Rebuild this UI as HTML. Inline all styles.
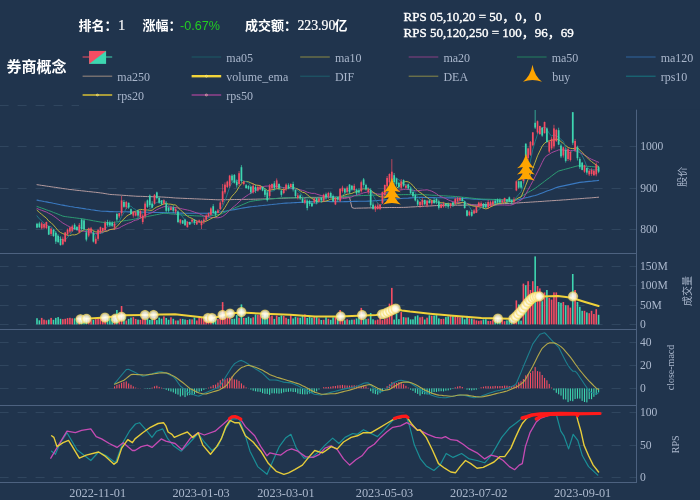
<!DOCTYPE html>
<html><head><meta charset="utf-8"><title>券商概念</title>
<style>html,body{margin:0;padding:0;background:#20344d;} svg{display:block;}</style></head>
<body><svg width="700" height="500" viewBox="0 0 700 500">
<defs><radialGradient id="glow"><stop offset="0" stop-color="#ffffff" stop-opacity="0.95"/><stop offset="0.55" stop-color="#fff8dc" stop-opacity="0.85"/><stop offset="0.85" stop-color="#f8e070" stop-opacity="0.8"/><stop offset="1" stop-color="#f0d040" stop-opacity="0.35"/></radialGradient></defs>
<rect width="700" height="500" fill="#20344d"/>
<line x1="0" y1="105.5" x2="636.5" y2="105.5" stroke="#30465f" stroke-width="1" stroke-dasharray="9 9" stroke-dashoffset="0.4"/>
<line x1="0" y1="146.5" x2="636.5" y2="146.5" stroke="#30465f" stroke-width="1" stroke-dasharray="9 9" stroke-dashoffset="0.4"/>
<line x1="0" y1="188.5" x2="636.5" y2="188.5" stroke="#30465f" stroke-width="1" stroke-dasharray="9 9" stroke-dashoffset="0.4"/>
<line x1="0" y1="229.5" x2="636.5" y2="229.5" stroke="#30465f" stroke-width="1" stroke-dasharray="9 9" stroke-dashoffset="0.4"/>
<line x1="0" y1="266.5" x2="636.5" y2="266.5" stroke="#30465f" stroke-width="1" stroke-dasharray="9 9" stroke-dashoffset="0.4"/>
<line x1="0" y1="285.5" x2="636.5" y2="285.5" stroke="#30465f" stroke-width="1" stroke-dasharray="9 9" stroke-dashoffset="0.4"/>
<line x1="0" y1="305.5" x2="636.5" y2="305.5" stroke="#30465f" stroke-width="1" stroke-dasharray="9 9" stroke-dashoffset="0.4"/>
<line x1="0" y1="324.5" x2="636.5" y2="324.5" stroke="#30465f" stroke-width="1" stroke-dasharray="9 9" stroke-dashoffset="0.4"/>
<line x1="0" y1="342.5" x2="636.5" y2="342.5" stroke="#30465f" stroke-width="1" stroke-dasharray="9 9" stroke-dashoffset="0.4"/>
<line x1="0" y1="365.5" x2="636.5" y2="365.5" stroke="#30465f" stroke-width="1" stroke-dasharray="9 9" stroke-dashoffset="0.4"/>
<line x1="0" y1="388.5" x2="636.5" y2="388.5" stroke="#30465f" stroke-width="1" stroke-dasharray="9 9" stroke-dashoffset="0.4"/>
<line x1="0" y1="412.5" x2="636.5" y2="412.5" stroke="#30465f" stroke-width="1" stroke-dasharray="9 9" stroke-dashoffset="0.4"/>
<line x1="0" y1="445.5" x2="636.5" y2="445.5" stroke="#30465f" stroke-width="1" stroke-dasharray="9 9" stroke-dashoffset="0.4"/>
<line x1="0" y1="477.5" x2="636.5" y2="477.5" stroke="#30465f" stroke-width="1" stroke-dasharray="9 9" stroke-dashoffset="0.4"/>
<polyline points="37.0,184.7 39.3,185.0 41.7,185.4 44.0,185.7 46.4,186.1 48.7,186.4 51.1,186.8 53.4,187.1 55.8,187.4 58.1,187.8 60.5,188.1 62.8,188.5 65.2,188.8 67.5,189.1 69.9,189.5 72.2,189.7 74.6,190.0 76.9,190.3 79.3,190.5 81.6,190.8 84.0,191.0 86.3,191.3 88.7,191.6 91.0,191.8 93.4,192.1 95.7,192.3 98.1,192.6 100.4,192.9 102.8,193.2 105.1,193.6 107.5,194.0 109.8,194.4 112.2,194.6 114.5,194.7 116.9,194.9 119.2,195.0 121.6,195.2 123.9,195.4 126.3,195.5 128.6,195.7 131.0,195.9 133.3,196.0 135.7,196.2 138.0,196.3 140.4,196.3 142.7,196.4 145.1,196.5 147.4,196.6 149.8,196.6 152.1,196.7 154.5,196.8 156.8,196.9 159.2,196.9 161.5,197.0 163.9,197.1 166.2,197.3 168.6,197.4 170.9,197.6 173.3,197.8 175.6,198.0 178.0,198.1 180.3,198.2 182.7,198.3 185.0,198.4 187.4,198.5 189.7,198.6 192.1,198.7 194.4,198.8 196.8,198.9 199.1,199.0 201.5,199.1 203.8,199.2 206.2,199.3 208.5,199.4 210.9,199.5 213.2,199.6 215.6,199.7 217.9,199.8 220.3,199.8 222.6,199.7 225.0,199.7 227.3,199.7 229.7,199.6 232.0,199.6 234.4,199.5 236.7,199.5 239.1,199.5 241.4,199.4 243.8,199.4 246.1,199.4 248.5,199.3 250.8,199.3 253.2,199.2 255.5,199.2 257.9,199.1 260.2,199.1 262.6,199.0 264.9,199.0 267.3,198.9 269.6,198.8 272.0,198.7 274.3,198.6 276.7,198.5 279.0,198.4 281.4,198.3 283.7,198.2 286.1,198.1 288.4,198.0 290.8,197.9 293.1,197.8 295.5,197.7 297.8,197.6 300.2,197.5 302.5,197.5 304.9,197.5 307.2,197.4 309.6,197.4 311.9,197.4 314.3,197.4 316.6,197.4 319.0,197.3 321.3,197.3 323.7,197.3 326.0,197.3 328.4,197.3 330.7,197.3 333.1,197.2 335.4,197.2 337.8,197.2 340.1,197.2 342.5,197.2 344.8,197.1 347.2,197.1 349.5,197.1 351.9,207.5 354.2,208.3 356.6,208.2 358.9,208.1 361.3,208.1 363.6,208.0 366.0,208.0 368.3,207.9 370.7,207.9 373.0,207.8 375.4,207.8 377.7,207.7 380.1,207.7 382.4,207.6 384.8,207.6 387.1,207.6 389.5,207.5 391.8,207.5 394.2,207.5 396.5,207.5 398.9,207.5 401.2,207.4 403.6,207.4 405.9,207.3 408.3,207.2 410.6,207.0 413.0,206.9 415.3,206.8 417.7,206.6 420.0,206.5 422.4,206.4 424.7,206.2 427.1,206.1 429.4,206.0 431.8,205.9 434.1,205.7 436.5,205.6 438.8,205.5 441.2,205.4 443.5,205.4 445.9,205.3 448.2,205.3 450.6,205.3 452.9,205.3 455.3,205.2 457.6,205.2 460.0,205.2 462.3,205.2 464.7,205.1 467.0,205.1 469.4,205.1 471.7,205.0 474.1,205.0 476.4,205.0 478.8,204.9 481.1,204.8 483.5,204.6 485.8,204.5 488.2,204.4 490.5,204.3 492.9,204.2 495.2,204.1 497.6,204.0 499.9,203.8 502.3,203.7 504.6,203.6 507.0,203.5 509.3,203.4 511.7,203.3 514.0,203.2 516.4,203.0 518.7,202.9 521.1,202.7 523.4,202.6 525.8,202.4 528.1,202.3 530.5,202.1 532.8,202.0 535.2,201.8 537.5,201.7 539.9,201.5 542.2,201.4 544.6,201.2 546.9,201.0 549.3,200.9 551.6,200.7 554.0,200.6 556.3,200.4 558.7,200.3 561.0,200.1 563.4,199.9 565.7,199.8 568.1,199.6 570.4,199.4 572.8,199.2 575.1,199.0 577.5,198.9 579.8,198.7 582.2,198.5 584.5,198.3 586.9,198.1 589.2,198.0 591.6,197.8 593.9,197.6 596.3,197.4 598.6,197.2" fill="none" stroke="#b39a9e" stroke-width="1.0" stroke-linejoin="round" stroke-linecap="round" />
<polyline points="37.0,200.1 39.3,200.6 41.7,201.0 44.0,201.5 46.4,201.9 48.7,202.4 51.1,202.8 53.4,203.3 55.8,203.7 58.1,204.2 60.5,204.7 62.8,205.1 65.2,205.6 67.5,206.0 69.9,206.5 72.2,206.8 74.6,207.2 76.9,207.5 79.3,207.9 81.6,208.2 84.0,208.6 86.3,209.0 88.7,209.3 91.0,209.7 93.4,210.0 95.7,210.4 98.1,210.7 100.4,211.0 102.8,211.2 105.1,211.3 107.5,211.4 109.8,211.6 112.2,211.6 114.5,211.7 116.9,211.7 119.2,211.7 121.6,211.8 123.9,211.8 126.3,211.8 128.6,211.9 131.0,211.9 133.3,212.0 135.7,212.0 138.0,212.0 140.4,212.1 142.7,212.1 145.1,212.2 147.4,212.2 149.8,212.3 152.1,212.3 154.5,212.4 156.8,212.5 159.2,212.5 161.5,212.6 163.9,212.6 166.2,212.7 168.6,212.8 170.9,212.8 173.3,212.9 175.6,212.9 178.0,213.0 180.3,213.1 182.7,213.1 185.0,213.2 187.4,213.2 189.7,213.2 192.1,213.2 194.4,213.2 196.8,213.2 199.1,213.2 201.5,213.2 203.8,213.2 206.2,213.2 208.5,213.1 210.9,212.9 213.2,212.7 215.6,212.5 217.9,212.3 220.3,212.0 222.6,211.6 225.0,211.2 227.3,210.8 229.7,210.4 232.0,210.0 234.4,209.6 236.7,209.1 239.1,208.7 241.4,208.3 243.8,207.9 246.1,207.5 248.5,207.1 250.8,206.7 253.2,206.5 255.5,206.2 257.9,206.0 260.2,205.7 262.6,205.5 264.9,205.2 267.3,205.0 269.6,204.7 272.0,204.5 274.3,204.2 276.7,204.0 279.0,203.7 281.4,203.5 283.7,203.2 286.1,203.1 288.4,203.0 290.8,202.9 293.1,202.7 295.5,202.6 297.8,202.5 300.2,202.4 302.5,202.3 304.9,202.2 307.2,202.0 309.6,201.9 311.9,201.8 314.3,201.7 316.6,201.6 319.0,201.5 321.3,201.4 323.7,201.5 326.0,201.5 328.4,201.5 330.7,201.6 333.1,201.6 335.4,201.6 337.8,201.7 340.1,201.7 342.5,201.7 344.8,201.6 347.2,201.6 349.5,201.5 351.9,201.5 354.2,201.4 356.6,201.4 358.9,201.3 361.3,201.3 363.6,201.2 366.0,201.2 368.3,201.1 370.7,201.0 373.0,200.9 375.4,200.7 377.7,200.5 380.1,200.3 382.4,200.1 384.8,199.9 387.1,199.7 389.5,199.5 391.8,199.3 394.2,199.1 396.5,198.9 398.9,198.7 401.2,198.5 403.6,198.3 405.9,198.2 408.3,198.1 410.6,197.9 413.0,197.8 415.3,197.7 417.7,197.5 420.0,197.4 422.4,197.4 424.7,197.5 427.1,197.5 429.4,197.6 431.8,197.6 434.1,197.6 436.5,197.7 438.8,197.7 441.2,197.8 443.5,197.8 445.9,197.8 448.2,197.9 450.6,197.9 452.9,197.9 455.3,198.0 457.6,198.1 460.0,198.2 462.3,198.4 464.7,198.5 467.0,198.7 469.4,198.8 471.7,199.0 474.1,199.1 476.4,199.3 478.8,199.4 481.1,199.5 483.5,199.6 485.8,199.6 488.2,199.7 490.5,199.7 492.9,199.8 495.2,199.8 497.6,199.9 499.9,200.0 502.3,200.0 504.6,200.1 507.0,200.1 509.3,200.2 511.7,200.2 514.0,200.3 516.4,200.0 518.7,199.5 521.1,198.9 523.4,198.3 525.8,197.7 528.1,197.2 530.5,196.6 532.8,196.0 535.2,195.5 537.5,194.7 539.9,193.8 542.2,192.9 544.6,192.0 546.9,191.1 549.3,190.3 551.6,189.4 554.0,188.5 556.3,187.6 558.7,186.9 561.0,186.4 563.4,185.9 565.7,185.4 568.1,184.9 570.4,184.4 572.8,183.9 575.1,183.4 577.5,182.9 579.8,182.4 582.2,182.1 584.5,181.9 586.9,181.6 589.2,181.4 591.6,181.2 593.9,180.9 596.3,180.7 598.6,180.4" fill="none" stroke="#3a79c0" stroke-width="1.1" stroke-linejoin="round" stroke-linecap="round" />
<polyline points="37.0,206.5 39.3,207.3 41.7,208.1 44.0,208.9 46.4,209.8 48.7,210.6 51.1,211.4 53.4,212.4 55.8,213.3 58.1,214.2 60.5,215.2 62.8,216.1 65.2,216.6 67.5,216.9 69.9,217.2 72.2,217.5 74.6,217.8 76.9,218.1 79.3,218.4 81.6,218.7 84.0,219.0 86.3,219.5 88.7,219.9 91.0,220.3 93.4,220.8 95.7,221.2 98.1,221.6 100.4,222.0 102.8,222.3 105.1,222.5 107.5,222.7 109.8,223.0 112.2,222.7 114.5,222.3 116.9,221.9 119.2,221.6 121.6,221.2 123.9,220.8 126.3,220.5 128.6,220.1 131.0,219.8 133.3,219.3 135.7,218.9 138.0,218.4 140.4,217.9 142.7,217.5 145.1,217.0 147.4,216.5 149.8,216.0 152.1,215.6 154.5,215.1 156.8,214.6 159.2,214.2 161.5,213.7 163.9,213.2 166.2,213.4 168.6,213.6 170.9,213.9 173.3,214.1 175.6,214.3 178.0,214.6 180.3,214.8 182.7,215.0 185.0,215.2 187.4,215.4 189.7,215.5 192.1,215.6 194.4,215.8 196.8,215.9 199.1,216.0 201.5,216.1 203.8,216.2 206.2,216.4 208.5,216.2 210.9,215.8 213.2,215.4 215.6,215.0 217.9,214.6 220.3,214.2 222.6,213.2 225.0,212.2 227.3,211.1 229.7,210.1 232.0,209.1 234.4,208.1 236.7,207.1 239.1,206.1 241.4,205.1 243.8,204.1 246.1,203.1 248.5,202.1 250.8,201.3 253.2,201.0 255.5,200.6 257.9,200.3 260.2,200.0 262.6,199.7 264.9,199.4 267.3,199.2 269.6,199.0 272.0,198.8 274.3,198.6 276.7,198.4 279.0,198.2 281.4,198.0 283.7,197.8 286.1,197.8 288.4,197.8 290.8,197.8 293.1,197.9 295.5,197.9 297.8,197.9 300.2,197.9 302.5,197.9 304.9,197.9 307.2,197.9 309.6,197.9 311.9,198.0 314.3,198.0 316.6,198.0 319.0,198.0 321.3,197.9 323.7,197.8 326.0,197.6 328.4,197.4 330.7,197.3 333.1,197.1 335.4,197.0 337.8,196.8 340.1,196.7 342.5,196.5 344.8,196.3 347.2,196.2 349.5,196.0 351.9,195.9 354.2,195.9 356.6,195.8 358.9,195.7 361.3,195.6 363.6,195.5 366.0,195.4 368.3,195.4 370.7,195.3 373.0,195.2 375.4,195.1 377.7,195.0 380.1,194.9 382.4,194.9 384.8,194.8 387.1,194.8 389.5,194.8 391.8,194.7 394.2,194.7 396.5,194.7 398.9,194.7 401.2,194.7 403.6,194.6 405.9,194.6 408.3,194.6 410.6,194.6 413.0,194.6 415.3,194.5 417.7,194.5 420.0,194.5 422.4,194.6 424.7,194.8 427.1,194.9 429.4,195.0 431.8,195.2 434.1,195.3 436.5,195.4 438.8,195.5 441.2,195.7 443.5,195.8 445.9,195.9 448.2,196.1 450.6,196.2 452.9,196.3 455.3,196.5 457.6,196.7 460.0,196.9 462.3,197.2 464.7,197.4 467.0,197.6 469.4,197.9 471.7,198.1 474.1,198.4 476.4,198.6 478.8,198.9 481.1,199.0 483.5,199.1 485.8,199.2 488.2,199.2 490.5,199.3 492.9,199.4 495.2,199.4 497.6,199.5 499.9,199.6 502.3,199.6 504.6,199.7 507.0,199.8 509.3,199.8 511.7,199.9 514.0,200.0 516.4,199.4 518.7,198.0 521.1,196.6 523.4,195.2 525.8,193.8 528.1,192.4 530.5,191.1 532.8,189.7 535.2,188.3 537.5,186.6 539.9,184.8 542.2,183.1 544.6,181.3 546.9,179.5 549.3,177.8 551.6,176.0 554.0,174.2 556.3,172.5 558.7,171.0 561.0,170.4 563.4,169.7 565.7,169.1 568.1,168.5 570.4,167.8 572.8,167.2 575.1,166.5 577.5,165.9 579.8,165.7 582.2,165.9 584.5,166.1 586.9,166.3 589.2,166.4 591.6,166.6 593.9,166.8 596.3,167.0 598.6,167.2" fill="none" stroke="#2c9c72" stroke-width="1.0" stroke-linejoin="round" stroke-linecap="round" />
<polyline points="37.0,208.5 39.3,209.5 41.7,210.3 44.0,211.2 46.4,212.0 48.7,213.3 51.1,214.4 53.4,215.9 55.8,217.6 58.1,219.4 60.5,221.3 62.8,223.0 65.2,224.4 67.5,225.7 69.9,226.9 72.2,228.0 74.6,228.8 76.9,229.6 79.3,230.2 81.6,231.0 84.0,231.1 86.3,231.7 88.7,232.0 91.0,232.2 93.4,233.2 95.7,233.4 98.1,233.4 100.4,233.0 102.8,232.3 105.1,231.4 107.5,230.4 109.8,229.7 112.2,229.3 114.5,229.0 116.9,228.6 119.2,228.0 121.6,226.5 123.9,225.4 126.3,224.2 128.6,223.2 131.0,222.4 133.3,221.0 135.7,220.2 138.0,219.6 140.4,218.0 142.7,216.9 145.1,215.5 147.4,214.5 149.8,213.4 152.1,212.6 154.5,211.1 156.8,209.7 159.2,208.6 161.5,207.6 163.9,206.7 166.2,206.5 168.6,207.1 170.9,207.1 173.3,207.5 175.6,207.6 178.0,208.0 180.3,208.4 182.7,209.0 185.0,209.5 187.4,210.0 189.7,210.5 192.1,211.3 194.4,212.1 196.8,212.9 199.1,213.5 201.5,214.8 203.8,215.9 206.2,216.6 208.5,217.0 210.9,217.4 213.2,217.5 215.6,217.7 217.9,217.8 220.3,217.4 222.6,216.5 225.0,214.7 227.3,212.8 229.7,210.4 232.0,208.1 234.4,206.2 236.7,204.2 239.1,201.9 241.4,199.8 243.8,197.8 246.1,196.2 248.5,194.6 250.8,193.2 253.2,191.7 255.5,190.6 257.9,189.5 260.2,188.2 262.6,187.0 264.9,186.2 267.3,186.1 269.6,185.8 272.0,185.8 274.3,186.1 276.7,186.4 279.0,186.8 281.4,187.4 283.7,187.6 286.1,188.1 288.4,188.5 290.8,188.6 293.1,188.7 295.5,189.0 297.8,189.2 300.2,189.8 302.5,190.4 304.9,191.1 307.2,192.2 309.6,192.8 311.9,193.4 314.3,193.3 316.6,194.1 319.0,194.9 321.3,195.5 323.7,196.2 326.0,196.6 328.4,196.5 330.7,196.9 333.1,197.8 335.4,198.3 337.8,199.0 340.1,199.0 342.5,198.6 344.8,198.4 347.2,197.9 349.5,197.4 351.9,196.9 354.2,195.7 356.6,195.2 358.9,194.5 361.3,193.7 363.6,192.8 366.0,192.4 368.3,191.8 370.7,192.4 373.0,192.9 375.4,193.6 377.7,194.0 380.1,194.2 382.4,193.9 384.8,193.1 387.1,192.6 389.5,191.9 391.8,190.9 394.2,190.6 396.5,190.2 398.9,190.1 401.2,189.9 403.6,189.5 405.9,189.2 408.3,189.5 410.6,189.9 413.0,190.2 415.3,190.8 417.7,190.8 420.0,190.4 422.4,190.1 424.7,190.0 427.1,189.8 429.4,190.4 431.8,191.2 434.1,192.4 436.5,193.8 438.8,195.6 441.2,196.7 443.5,197.7 445.9,198.6 448.2,199.9 450.6,200.8 452.9,201.7 455.3,202.2 457.6,202.5 460.0,202.6 462.3,202.6 464.7,202.8 467.0,203.5 469.4,204.1 471.7,204.6 474.1,205.1 476.4,205.3 478.8,205.4 481.1,205.4 483.5,205.7 485.8,205.7 488.2,205.6 490.5,205.5 492.9,205.3 495.2,205.1 497.6,205.0 499.9,204.9 502.3,205.0 504.6,205.0 507.0,205.1 509.3,205.2 511.7,204.9 514.0,204.1 516.4,202.6 518.7,201.2 521.1,200.0 523.4,198.2 525.8,194.1 528.1,189.8 530.5,185.5 532.8,181.2 535.2,176.5 537.5,171.9 539.9,167.2 542.2,162.4 544.6,157.7 546.9,155.6 549.3,154.2 551.6,152.7 554.0,151.7 556.3,150.8 558.7,149.9 561.0,149.8 563.4,150.0 565.7,150.2 568.1,150.5 570.4,150.5 572.8,150.5 575.1,150.5 577.5,151.4 579.8,152.6 582.2,153.7 584.5,155.1 586.9,156.6 589.2,158.1 591.6,159.3 593.9,160.3 596.3,161.3 598.6,162.3" fill="none" stroke="#a8489e" stroke-width="1.0" stroke-linejoin="round" stroke-linecap="round" />
<polyline points="37.0,210.2 39.3,212.4 41.7,214.3 44.0,216.3 46.4,218.1 48.7,221.1 51.1,222.7 53.4,225.0 55.8,227.8 58.1,230.7 60.5,232.5 62.8,233.6 65.2,234.5 67.5,235.1 69.9,235.6 72.2,234.8 74.6,234.9 76.9,234.3 79.3,232.6 81.6,231.3 84.0,229.7 86.3,229.8 88.7,229.4 91.0,229.3 93.4,230.7 95.7,231.9 98.1,232.0 100.4,231.7 102.8,232.0 105.1,231.4 107.5,231.0 109.8,229.6 112.2,229.3 114.5,228.8 116.9,226.6 119.2,224.0 121.6,221.1 123.9,219.0 126.3,216.4 128.6,214.9 131.0,213.8 133.3,212.4 135.7,211.1 138.0,210.3 140.4,209.4 142.7,209.7 145.1,210.0 147.4,210.0 149.8,210.3 152.1,210.3 154.5,208.4 156.8,207.0 159.2,206.1 161.5,204.9 163.9,203.9 166.2,203.4 168.6,204.1 170.9,204.2 173.3,204.8 175.6,204.9 178.0,207.6 180.3,209.8 182.7,211.9 185.0,214.0 187.4,216.2 189.7,217.5 192.1,218.4 194.4,219.9 196.8,221.0 199.1,222.1 201.5,222.0 203.8,222.0 206.2,221.2 208.5,220.0 210.9,218.7 213.2,217.5 215.6,217.0 217.9,215.8 220.3,213.9 222.6,211.0 225.0,207.3 227.3,203.5 229.7,199.5 232.0,196.2 234.4,193.7 236.7,190.9 239.1,186.8 241.4,183.8 243.8,181.7 246.1,181.4 248.5,181.8 250.8,182.9 253.2,183.9 255.5,185.0 257.9,185.4 260.2,185.5 262.6,187.2 264.9,188.6 267.3,190.5 269.6,190.2 272.0,189.8 274.3,189.3 276.7,188.8 279.0,188.6 281.4,189.3 283.7,189.6 286.1,189.0 288.4,188.4 290.8,186.8 293.1,187.1 295.5,188.3 297.8,189.0 300.2,190.8 302.5,192.3 304.9,192.8 307.2,194.7 309.6,196.6 311.9,198.4 314.3,199.9 316.6,201.2 319.0,201.4 321.3,201.9 323.7,201.5 326.0,201.0 328.4,200.3 330.7,199.1 333.1,198.9 335.4,198.1 337.8,198.2 340.1,196.8 342.5,195.8 344.8,195.0 347.2,194.3 349.5,193.8 351.9,193.4 354.2,192.3 356.6,191.6 358.9,191.0 361.3,189.2 363.6,188.8 366.0,189.0 368.3,188.7 370.7,190.4 373.0,192.1 375.4,193.7 377.7,195.7 380.1,196.8 382.4,196.8 384.8,197.1 387.1,196.4 389.5,194.8 391.8,193.1 394.2,190.8 396.5,188.3 398.9,186.4 401.2,184.0 403.6,182.2 405.9,181.5 408.3,181.9 410.6,183.4 413.0,185.6 415.3,188.5 417.7,190.7 420.0,192.5 422.4,193.8 424.7,196.1 427.1,197.5 429.4,199.3 431.8,200.5 434.1,201.5 436.5,202.0 438.8,202.8 441.2,202.7 443.5,202.9 445.9,203.5 448.2,203.7 450.6,204.0 452.9,204.2 455.3,204.0 457.6,203.5 460.0,203.1 462.3,202.4 464.7,202.8 467.0,204.0 469.4,204.6 471.7,205.6 474.1,206.2 476.4,206.4 478.8,206.8 481.1,207.3 483.5,208.2 485.8,208.9 488.2,208.3 490.5,206.9 492.9,205.9 495.2,204.6 497.6,203.8 499.9,203.4 502.3,203.2 504.6,202.6 507.0,202.1 509.3,201.5 511.7,201.5 514.0,201.2 516.4,199.2 518.7,197.7 521.1,197.0 523.4,191.4 525.8,185.2 528.1,179.4 530.5,174.0 532.8,168.4 535.2,162.1 537.5,155.8 539.9,150.9 542.2,146.2 544.6,143.2 546.9,141.5 549.3,140.9 551.6,140.3 554.0,139.7 556.3,139.1 558.7,139.6 561.0,141.6 563.4,143.6 565.7,145.5 568.1,147.4 570.4,148.3 572.8,148.6 575.1,148.2 577.5,147.8 579.8,150.1 582.2,152.5 584.5,154.8 586.9,157.3 589.2,159.7 591.6,161.6 593.9,163.4 596.3,165.1 598.6,166.8" fill="none" stroke="#b8b040" stroke-width="1.0" stroke-linejoin="round" stroke-linecap="round" />
<polyline points="37.0,215.9 39.3,218.8 41.7,220.9 44.0,223.1 46.4,224.9 48.7,226.3 51.1,226.6 53.4,229.1 55.8,232.6 58.1,236.6 60.5,238.7 62.8,240.7 65.2,240.0 67.5,237.6 69.9,234.7 72.2,231.0 74.6,229.0 76.9,228.5 79.3,227.6 81.6,227.9 84.0,228.5 86.3,230.6 88.7,230.2 91.0,231.0 93.4,233.4 95.7,235.4 98.1,233.4 100.4,233.2 102.8,233.1 105.1,229.4 107.5,226.6 109.8,225.7 112.2,225.4 114.5,224.5 116.9,223.8 119.2,221.4 121.6,216.5 123.9,212.7 126.3,208.4 128.6,206.0 131.0,206.2 133.3,208.4 135.7,209.5 138.0,212.2 140.4,212.9 142.7,213.2 145.1,211.6 147.4,210.5 149.8,208.4 152.1,207.8 154.5,203.6 156.8,202.5 159.2,201.7 161.5,201.4 163.9,200.0 166.2,203.2 168.6,205.8 170.9,206.7 173.3,208.1 175.6,209.8 178.0,212.1 180.3,213.8 182.7,217.0 185.0,219.9 187.4,222.5 189.7,223.0 192.1,223.0 194.4,222.8 196.8,222.1 199.1,221.8 201.5,221.1 203.8,221.1 206.2,219.7 208.5,218.0 210.9,215.6 213.2,213.9 215.6,212.9 217.9,211.9 220.3,209.8 222.6,206.3 225.0,200.7 227.3,194.1 229.7,187.1 232.0,182.7 234.4,181.0 236.7,181.1 239.1,179.4 241.4,180.5 243.8,180.8 246.1,181.8 248.5,182.6 250.8,186.4 253.2,187.4 255.5,189.2 257.9,188.9 260.2,188.4 262.6,188.1 264.9,189.9 267.3,191.8 269.6,191.6 272.0,191.1 274.3,190.6 276.7,187.7 279.0,185.3 281.4,187.1 283.7,188.2 286.1,187.5 288.4,189.0 290.8,188.2 293.1,187.1 295.5,188.4 297.8,190.6 300.2,192.6 302.5,196.4 304.9,198.5 307.2,200.9 309.6,202.6 311.9,204.2 314.3,203.4 316.6,203.8 319.0,201.9 321.3,201.2 323.7,198.9 326.0,198.6 328.4,196.7 330.7,196.4 333.1,196.6 335.4,197.3 337.8,197.8 340.1,197.0 342.5,195.2 344.8,193.4 347.2,191.2 349.5,189.8 351.9,189.9 354.2,189.5 356.6,189.7 358.9,190.7 361.3,188.7 363.6,187.8 366.0,188.5 368.3,187.6 370.7,190.2 373.0,195.5 375.4,199.7 377.7,203.0 380.1,206.0 382.4,203.4 384.8,198.6 387.1,193.0 389.5,186.7 391.8,180.1 394.2,178.2 396.5,178.0 398.9,179.9 401.2,181.4 403.6,184.2 405.9,184.9 408.3,185.7 410.6,187.0 413.0,189.9 415.3,192.8 417.7,196.6 420.0,199.3 422.4,200.6 424.7,202.2 427.1,202.2 429.4,201.9 431.8,201.8 434.1,202.4 436.5,201.9 438.8,203.3 441.2,203.6 443.5,204.1 445.9,204.6 448.2,205.5 450.6,204.7 452.9,204.8 455.3,203.8 457.6,202.4 460.0,200.7 462.3,200.2 464.7,200.8 467.0,204.2 469.4,206.8 471.7,210.4 474.1,212.3 476.4,212.1 478.8,209.4 481.1,207.8 483.5,206.1 485.8,205.5 488.2,204.5 490.5,204.4 492.9,204.0 495.2,203.2 497.6,202.1 499.9,202.2 502.3,201.9 504.6,201.2 507.0,200.9 509.3,200.8 511.7,200.8 514.0,200.6 516.4,197.3 518.7,194.5 521.1,191.7 523.4,184.8 525.8,176.2 528.1,169.6 530.5,160.5 532.8,149.4 535.2,141.4 537.5,134.3 539.9,129.8 542.2,128.6 544.6,126.5 546.9,129.4 549.3,133.5 551.6,136.1 554.0,134.6 556.3,136.2 558.7,136.8 561.0,139.6 563.4,141.3 565.7,147.8 568.1,151.7 570.4,153.1 572.8,150.4 575.1,149.1 577.5,148.6 579.8,152.2 582.2,155.8 584.5,160.3 586.9,166.7 589.2,169.2 591.6,169.7 593.9,169.9 596.3,169.7 598.6,169.6" fill="none" stroke="#1f7f8a" stroke-width="0.9" stroke-linejoin="round" stroke-linecap="round" />
<line x1="37.00" y1="222.8" x2="37.00" y2="228.2" stroke="#3ed6b0" stroke-width="0.7"/>
<rect x="36.15" y="223.8" width="1.7" height="3.8" fill="#3ed6b0"/>
<line x1="39.35" y1="221.7" x2="39.35" y2="227.8" stroke="#3ed6b0" stroke-width="0.7"/>
<rect x="38.50" y="223.4" width="1.7" height="3.9" fill="#3ed6b0"/>
<line x1="41.70" y1="221.9" x2="41.70" y2="229.4" stroke="#f54d63" stroke-width="0.7"/>
<rect x="40.85" y="223.4" width="1.7" height="4.9" fill="#f54d63"/>
<line x1="44.05" y1="223.7" x2="44.05" y2="229.0" stroke="#f54d63" stroke-width="0.7"/>
<rect x="43.20" y="224.1" width="1.7" height="3.5" fill="#f54d63"/>
<line x1="46.40" y1="221.6" x2="46.40" y2="229.3" stroke="#f54d63" stroke-width="0.7"/>
<rect x="45.55" y="222.0" width="1.7" height="6.0" fill="#f54d63"/>
<line x1="48.75" y1="225.7" x2="48.75" y2="235.1" stroke="#3ed6b0" stroke-width="0.7"/>
<rect x="47.90" y="226.2" width="1.7" height="8.4" fill="#3ed6b0"/>
<line x1="51.10" y1="227.5" x2="51.10" y2="236.0" stroke="#f54d63" stroke-width="0.7"/>
<rect x="50.25" y="228.7" width="1.7" height="5.2" fill="#f54d63"/>
<line x1="53.45" y1="229.1" x2="53.45" y2="236.8" stroke="#3ed6b0" stroke-width="0.7"/>
<rect x="52.60" y="229.7" width="1.7" height="6.3" fill="#3ed6b0"/>
<line x1="55.80" y1="231.2" x2="55.80" y2="244.0" stroke="#3ed6b0" stroke-width="0.7"/>
<rect x="54.95" y="232.9" width="1.7" height="8.7" fill="#3ed6b0"/>
<line x1="58.15" y1="234.4" x2="58.15" y2="243.2" stroke="#3ed6b0" stroke-width="0.7"/>
<rect x="57.30" y="236.0" width="1.7" height="6.0" fill="#3ed6b0"/>
<line x1="60.50" y1="236.4" x2="60.50" y2="245.5" stroke="#3ed6b0" stroke-width="0.7"/>
<rect x="59.65" y="238.8" width="1.7" height="6.3" fill="#3ed6b0"/>
<line x1="62.85" y1="236.6" x2="62.85" y2="245.3" stroke="#f54d63" stroke-width="0.7"/>
<rect x="62.00" y="238.8" width="1.7" height="5.6" fill="#f54d63"/>
<line x1="65.20" y1="231.9" x2="65.20" y2="242.2" stroke="#f54d63" stroke-width="0.7"/>
<rect x="64.35" y="232.5" width="1.7" height="9.1" fill="#f54d63"/>
<line x1="67.55" y1="228.5" x2="67.55" y2="236.1" stroke="#f54d63" stroke-width="0.7"/>
<rect x="66.70" y="229.5" width="1.7" height="4.5" fill="#f54d63"/>
<line x1="69.90" y1="226.9" x2="69.90" y2="233.2" stroke="#f54d63" stroke-width="0.7"/>
<rect x="69.05" y="227.6" width="1.7" height="4.0" fill="#f54d63"/>
<line x1="72.25" y1="224.7" x2="72.25" y2="231.9" stroke="#f54d63" stroke-width="0.7"/>
<rect x="71.40" y="226.4" width="1.7" height="4.4" fill="#f54d63"/>
<line x1="74.60" y1="223.3" x2="74.60" y2="229.6" stroke="#3ed6b0" stroke-width="0.7"/>
<rect x="73.75" y="224.8" width="1.7" height="4.4" fill="#3ed6b0"/>
<line x1="76.95" y1="226.4" x2="76.95" y2="230.8" stroke="#3ed6b0" stroke-width="0.7"/>
<rect x="76.10" y="226.8" width="1.7" height="3.2" fill="#3ed6b0"/>
<line x1="79.30" y1="223.0" x2="79.30" y2="233.6" stroke="#f54d63" stroke-width="0.7"/>
<rect x="78.45" y="224.8" width="1.7" height="7.6" fill="#f54d63"/>
<line x1="81.65" y1="218.6" x2="81.65" y2="230.8" stroke="#3ed6b0" stroke-width="0.7"/>
<rect x="80.80" y="219.6" width="1.7" height="9.6" fill="#3ed6b0"/>
<line x1="84.00" y1="219.1" x2="84.00" y2="230.2" stroke="#3ed6b0" stroke-width="0.7"/>
<rect x="83.15" y="220.4" width="1.7" height="8.8" fill="#3ed6b0"/>
<line x1="86.35" y1="230.4" x2="86.35" y2="241.4" stroke="#3ed6b0" stroke-width="0.7"/>
<rect x="85.50" y="232.4" width="1.7" height="7.2" fill="#3ed6b0"/>
<line x1="88.70" y1="227.6" x2="88.70" y2="237.2" stroke="#f54d63" stroke-width="0.7"/>
<rect x="87.85" y="228.4" width="1.7" height="7.2" fill="#f54d63"/>
<line x1="91.05" y1="226.9" x2="91.05" y2="234.2" stroke="#f54d63" stroke-width="0.7"/>
<rect x="90.20" y="228.4" width="1.7" height="3.6" fill="#f54d63"/>
<line x1="93.39" y1="230.9" x2="93.39" y2="242.5" stroke="#3ed6b0" stroke-width="0.7"/>
<rect x="92.54" y="232.8" width="1.7" height="8.8" fill="#3ed6b0"/>
<line x1="95.74" y1="236.3" x2="95.74" y2="244.2" stroke="#f54d63" stroke-width="0.7"/>
<rect x="94.89" y="238.8" width="1.7" height="4.8" fill="#f54d63"/>
<line x1="98.09" y1="228.8" x2="98.09" y2="240.8" stroke="#f54d63" stroke-width="0.7"/>
<rect x="97.24" y="230.0" width="1.7" height="8.8" fill="#f54d63"/>
<line x1="100.44" y1="226.6" x2="100.44" y2="233.8" stroke="#f54d63" stroke-width="0.7"/>
<rect x="99.59" y="227.2" width="1.7" height="5.2" fill="#f54d63"/>
<line x1="102.79" y1="227.6" x2="102.79" y2="232.8" stroke="#f54d63" stroke-width="0.7"/>
<rect x="101.94" y="228.0" width="1.7" height="3.0" fill="#f54d63"/>
<line x1="105.14" y1="220.8" x2="105.14" y2="231.6" stroke="#f54d63" stroke-width="0.7"/>
<rect x="104.29" y="222.8" width="1.7" height="7.2" fill="#f54d63"/>
<line x1="107.49" y1="219.8" x2="107.49" y2="226.2" stroke="#3ed6b0" stroke-width="0.7"/>
<rect x="106.64" y="222.0" width="1.7" height="3.2" fill="#3ed6b0"/>
<line x1="109.84" y1="220.6" x2="109.84" y2="226.8" stroke="#3ed6b0" stroke-width="0.7"/>
<rect x="108.99" y="222.4" width="1.7" height="2.8" fill="#3ed6b0"/>
<line x1="112.19" y1="221.2" x2="112.19" y2="226.9" stroke="#3ed6b0" stroke-width="0.7"/>
<rect x="111.34" y="222.8" width="1.7" height="2.8" fill="#3ed6b0"/>
<line x1="114.54" y1="221.5" x2="114.54" y2="230.0" stroke="#f54d63" stroke-width="0.7"/>
<rect x="113.69" y="223.6" width="1.7" height="4.0" fill="#f54d63"/>
<line x1="116.89" y1="212.7" x2="116.89" y2="221.4" stroke="#3ed6b0" stroke-width="0.7"/>
<rect x="116.04" y="214.0" width="1.7" height="5.6" fill="#3ed6b0"/>
<line x1="119.24" y1="212.8" x2="119.24" y2="218.2" stroke="#f54d63" stroke-width="0.7"/>
<rect x="118.39" y="213.2" width="1.7" height="3.2" fill="#f54d63"/>
<line x1="121.59" y1="196.0" x2="121.59" y2="215.7" stroke="#f54d63" stroke-width="0.7"/>
<rect x="120.74" y="200.4" width="1.7" height="12.8" fill="#f54d63"/>
<line x1="123.94" y1="199.9" x2="123.94" y2="207.7" stroke="#3ed6b0" stroke-width="0.7"/>
<rect x="123.09" y="202.0" width="1.7" height="4.8" fill="#3ed6b0"/>
<line x1="126.29" y1="200.9" x2="126.29" y2="209.0" stroke="#f54d63" stroke-width="0.7"/>
<rect x="125.44" y="202.0" width="1.7" height="5.2" fill="#f54d63"/>
<line x1="128.64" y1="202.5" x2="128.64" y2="208.9" stroke="#3ed6b0" stroke-width="0.7"/>
<rect x="127.79" y="202.8" width="1.7" height="4.8" fill="#3ed6b0"/>
<line x1="130.99" y1="208.5" x2="130.99" y2="214.6" stroke="#3ed6b0" stroke-width="0.7"/>
<rect x="130.14" y="209.2" width="1.7" height="4.8" fill="#3ed6b0"/>
<line x1="133.34" y1="211.2" x2="133.34" y2="217.6" stroke="#f54d63" stroke-width="0.7"/>
<rect x="132.49" y="211.6" width="1.7" height="4.0" fill="#f54d63"/>
<line x1="135.69" y1="211.8" x2="135.69" y2="216.4" stroke="#f54d63" stroke-width="0.7"/>
<rect x="134.84" y="212.4" width="1.7" height="3.2" fill="#f54d63"/>
<line x1="138.04" y1="209.6" x2="138.04" y2="217.8" stroke="#3ed6b0" stroke-width="0.7"/>
<rect x="137.19" y="210.8" width="1.7" height="4.8" fill="#3ed6b0"/>
<line x1="140.39" y1="210.3" x2="140.39" y2="218.5" stroke="#f54d63" stroke-width="0.7"/>
<rect x="139.54" y="210.8" width="1.7" height="6.4" fill="#f54d63"/>
<line x1="142.74" y1="214.1" x2="142.74" y2="224.2" stroke="#f54d63" stroke-width="0.7"/>
<rect x="141.89" y="215.6" width="1.7" height="6.4" fill="#f54d63"/>
<line x1="145.09" y1="201.5" x2="145.09" y2="218.6" stroke="#f54d63" stroke-width="0.7"/>
<rect x="144.24" y="203.6" width="1.7" height="12.8" fill="#f54d63"/>
<line x1="147.44" y1="199.5" x2="147.44" y2="208.0" stroke="#3ed6b0" stroke-width="0.7"/>
<rect x="146.59" y="200.4" width="1.7" height="6.4" fill="#3ed6b0"/>
<line x1="149.79" y1="194.5" x2="149.79" y2="207.4" stroke="#3ed6b0" stroke-width="0.7"/>
<rect x="148.94" y="195.6" width="1.7" height="9.6" fill="#3ed6b0"/>
<line x1="152.14" y1="201.2" x2="152.14" y2="208.2" stroke="#3ed6b0" stroke-width="0.7"/>
<rect x="151.29" y="203.6" width="1.7" height="4.0" fill="#3ed6b0"/>
<line x1="154.49" y1="194.1" x2="154.49" y2="204.4" stroke="#f54d63" stroke-width="0.7"/>
<rect x="153.64" y="194.8" width="1.7" height="8.8" fill="#f54d63"/>
<line x1="156.84" y1="191.6" x2="156.84" y2="199.4" stroke="#3ed6b0" stroke-width="0.7"/>
<rect x="155.99" y="192.4" width="1.7" height="5.6" fill="#3ed6b0"/>
<line x1="159.19" y1="196.4" x2="159.19" y2="203.7" stroke="#3ed6b0" stroke-width="0.7"/>
<rect x="158.34" y="198.0" width="1.7" height="4.8" fill="#3ed6b0"/>
<line x1="161.54" y1="200.1" x2="161.54" y2="205.2" stroke="#3ed6b0" stroke-width="0.7"/>
<rect x="160.69" y="200.4" width="1.7" height="3.6" fill="#3ed6b0"/>
<line x1="163.89" y1="199.3" x2="163.89" y2="205.1" stroke="#f54d63" stroke-width="0.7"/>
<rect x="163.04" y="200.4" width="1.7" height="3.2" fill="#f54d63"/>
<line x1="166.24" y1="201.2" x2="166.24" y2="212.6" stroke="#3ed6b0" stroke-width="0.7"/>
<rect x="165.39" y="203.6" width="1.7" height="7.2" fill="#3ed6b0"/>
<line x1="168.59" y1="206.6" x2="168.59" y2="212.5" stroke="#3ed6b0" stroke-width="0.7"/>
<rect x="167.74" y="208.0" width="1.7" height="2.8" fill="#3ed6b0"/>
<line x1="170.94" y1="205.8" x2="170.94" y2="210.4" stroke="#f54d63" stroke-width="0.7"/>
<rect x="170.09" y="207.6" width="1.7" height="2.4" fill="#f54d63"/>
<line x1="173.29" y1="205.3" x2="173.29" y2="212.8" stroke="#3ed6b0" stroke-width="0.7"/>
<rect x="172.44" y="207.6" width="1.7" height="3.2" fill="#3ed6b0"/>
<line x1="175.64" y1="207.0" x2="175.64" y2="213.7" stroke="#f54d63" stroke-width="0.7"/>
<rect x="174.79" y="209.2" width="1.7" height="2.4" fill="#f54d63"/>
<line x1="177.99" y1="210.4" x2="177.99" y2="223.2" stroke="#3ed6b0" stroke-width="0.7"/>
<rect x="177.14" y="211.6" width="1.7" height="10.4" fill="#3ed6b0"/>
<line x1="180.34" y1="219.1" x2="180.34" y2="224.5" stroke="#f54d63" stroke-width="0.7"/>
<rect x="179.49" y="219.6" width="1.7" height="3.2" fill="#f54d63"/>
<line x1="182.69" y1="220.0" x2="182.69" y2="224.0" stroke="#3ed6b0" stroke-width="0.7"/>
<rect x="181.84" y="220.4" width="1.7" height="3.2" fill="#3ed6b0"/>
<line x1="185.04" y1="218.8" x2="185.04" y2="225.9" stroke="#3ed6b0" stroke-width="0.7"/>
<rect x="184.19" y="219.6" width="1.7" height="5.6" fill="#3ed6b0"/>
<line x1="187.39" y1="221.0" x2="187.39" y2="227.6" stroke="#f54d63" stroke-width="0.7"/>
<rect x="186.54" y="222.0" width="1.7" height="5.2" fill="#f54d63"/>
<line x1="189.74" y1="221.7" x2="189.74" y2="225.0" stroke="#3ed6b0" stroke-width="0.7"/>
<rect x="188.89" y="222.0" width="1.7" height="2.4" fill="#3ed6b0"/>
<line x1="192.09" y1="219.1" x2="192.09" y2="222.7" stroke="#f54d63" stroke-width="0.7"/>
<rect x="191.24" y="219.6" width="1.7" height="2.0" fill="#f54d63"/>
<line x1="194.44" y1="219.2" x2="194.44" y2="225.0" stroke="#3ed6b0" stroke-width="0.7"/>
<rect x="193.59" y="219.6" width="1.7" height="3.2" fill="#3ed6b0"/>
<line x1="196.79" y1="219.9" x2="196.79" y2="225.0" stroke="#f54d63" stroke-width="0.7"/>
<rect x="195.94" y="221.6" width="1.7" height="2.8" fill="#f54d63"/>
<line x1="199.14" y1="219.5" x2="199.14" y2="223.1" stroke="#f54d63" stroke-width="0.7"/>
<rect x="198.29" y="220.4" width="1.7" height="1.6" fill="#f54d63"/>
<line x1="201.49" y1="220.1" x2="201.49" y2="229.0" stroke="#f54d63" stroke-width="0.7"/>
<rect x="200.64" y="221.2" width="1.7" height="4.0" fill="#f54d63"/>
<line x1="203.84" y1="217.4" x2="203.84" y2="224.1" stroke="#f54d63" stroke-width="0.7"/>
<rect x="202.99" y="219.6" width="1.7" height="2.0" fill="#f54d63"/>
<line x1="206.18" y1="214.3" x2="206.18" y2="221.0" stroke="#f54d63" stroke-width="0.7"/>
<rect x="205.33" y="215.6" width="1.7" height="4.0" fill="#f54d63"/>
<line x1="208.53" y1="212.7" x2="208.53" y2="216.9" stroke="#f54d63" stroke-width="0.7"/>
<rect x="207.68" y="213.2" width="1.7" height="3.2" fill="#f54d63"/>
<line x1="210.88" y1="207.3" x2="210.88" y2="215.7" stroke="#f54d63" stroke-width="0.7"/>
<rect x="210.03" y="208.4" width="1.7" height="6.4" fill="#f54d63"/>
<line x1="213.23" y1="204.1" x2="213.23" y2="213.5" stroke="#3ed6b0" stroke-width="0.7"/>
<rect x="212.38" y="206.2" width="1.7" height="6.6" fill="#3ed6b0"/>
<line x1="215.58" y1="210.6" x2="215.58" y2="217.0" stroke="#3ed6b0" stroke-width="0.7"/>
<rect x="214.73" y="211.0" width="1.7" height="3.6" fill="#3ed6b0"/>
<line x1="217.93" y1="208.9" x2="217.93" y2="213.4" stroke="#f54d63" stroke-width="0.7"/>
<rect x="217.08" y="210.4" width="1.7" height="2.4" fill="#f54d63"/>
<line x1="220.28" y1="201.1" x2="220.28" y2="209.6" stroke="#f54d63" stroke-width="0.7"/>
<rect x="219.43" y="202.6" width="1.7" height="6.6" fill="#f54d63"/>
<line x1="222.63" y1="184.0" x2="222.63" y2="204.5" stroke="#f54d63" stroke-width="0.7"/>
<rect x="221.78" y="191.2" width="1.7" height="10.8" fill="#f54d63"/>
<line x1="224.98" y1="182.4" x2="224.98" y2="194.2" stroke="#f54d63" stroke-width="0.7"/>
<rect x="224.13" y="184.6" width="1.7" height="7.8" fill="#f54d63"/>
<line x1="227.33" y1="180.7" x2="227.33" y2="188.1" stroke="#f54d63" stroke-width="0.7"/>
<rect x="226.48" y="181.6" width="1.7" height="5.4" fill="#f54d63"/>
<line x1="229.68" y1="174.9" x2="229.68" y2="187.8" stroke="#f54d63" stroke-width="0.7"/>
<rect x="228.83" y="175.6" width="1.7" height="10.2" fill="#f54d63"/>
<line x1="232.03" y1="174.1" x2="232.03" y2="182.4" stroke="#3ed6b0" stroke-width="0.7"/>
<rect x="231.18" y="175.6" width="1.7" height="4.8" fill="#3ed6b0"/>
<line x1="234.38" y1="174.0" x2="234.38" y2="183.6" stroke="#3ed6b0" stroke-width="0.7"/>
<rect x="233.53" y="175.0" width="1.7" height="7.8" fill="#3ed6b0"/>
<line x1="236.73" y1="179.5" x2="236.73" y2="187.7" stroke="#3ed6b0" stroke-width="0.7"/>
<rect x="235.88" y="181.6" width="1.7" height="3.6" fill="#3ed6b0"/>
<line x1="239.08" y1="171.0" x2="239.08" y2="186.1" stroke="#f54d63" stroke-width="0.7"/>
<rect x="238.23" y="173.2" width="1.7" height="10.8" fill="#f54d63"/>
<line x1="241.43" y1="165.1" x2="241.43" y2="182.9" stroke="#3ed6b0" stroke-width="0.7"/>
<rect x="240.58" y="167.2" width="1.7" height="13.8" fill="#3ed6b0"/>
<line x1="243.78" y1="180.8" x2="243.78" y2="185.4" stroke="#f54d63" stroke-width="0.7"/>
<rect x="242.93" y="181.6" width="1.7" height="2.4" fill="#f54d63"/>
<line x1="246.13" y1="184.1" x2="246.13" y2="188.6" stroke="#3ed6b0" stroke-width="0.7"/>
<rect x="245.28" y="185.2" width="1.7" height="3.0" fill="#3ed6b0"/>
<line x1="248.48" y1="185.4" x2="248.48" y2="189.7" stroke="#3ed6b0" stroke-width="0.7"/>
<rect x="247.63" y="185.8" width="1.7" height="3.0" fill="#3ed6b0"/>
<line x1="250.83" y1="186.1" x2="250.83" y2="194.2" stroke="#3ed6b0" stroke-width="0.7"/>
<rect x="249.98" y="187.0" width="1.7" height="5.4" fill="#3ed6b0"/>
<line x1="253.18" y1="183.4" x2="253.18" y2="193.7" stroke="#f54d63" stroke-width="0.7"/>
<rect x="252.33" y="185.8" width="1.7" height="6.6" fill="#f54d63"/>
<line x1="255.53" y1="184.6" x2="255.53" y2="193.1" stroke="#3ed6b0" stroke-width="0.7"/>
<rect x="254.68" y="187.0" width="1.7" height="3.6" fill="#3ed6b0"/>
<line x1="257.88" y1="184.6" x2="257.88" y2="191.7" stroke="#f54d63" stroke-width="0.7"/>
<rect x="257.03" y="187.0" width="1.7" height="3.6" fill="#f54d63"/>
<line x1="260.23" y1="185.6" x2="260.23" y2="190.2" stroke="#f54d63" stroke-width="0.7"/>
<rect x="259.38" y="186.4" width="1.7" height="3.0" fill="#f54d63"/>
<line x1="262.58" y1="186.3" x2="262.58" y2="191.3" stroke="#3ed6b0" stroke-width="0.7"/>
<rect x="261.73" y="187.0" width="1.7" height="3.6" fill="#3ed6b0"/>
<line x1="264.93" y1="188.3" x2="264.93" y2="197.1" stroke="#3ed6b0" stroke-width="0.7"/>
<rect x="264.08" y="190.0" width="1.7" height="4.8" fill="#3ed6b0"/>
<line x1="267.28" y1="190.3" x2="267.28" y2="201.6" stroke="#3ed6b0" stroke-width="0.7"/>
<rect x="266.43" y="192.4" width="1.7" height="7.8" fill="#3ed6b0"/>
<line x1="269.63" y1="184.1" x2="269.63" y2="198.1" stroke="#f54d63" stroke-width="0.7"/>
<rect x="268.78" y="185.8" width="1.7" height="10.2" fill="#f54d63"/>
<line x1="271.98" y1="183.5" x2="271.98" y2="190.0" stroke="#f54d63" stroke-width="0.7"/>
<rect x="271.13" y="184.0" width="1.7" height="4.2" fill="#f54d63"/>
<line x1="274.33" y1="181.1" x2="274.33" y2="190.2" stroke="#3ed6b0" stroke-width="0.7"/>
<rect x="273.48" y="183.4" width="1.7" height="4.8" fill="#3ed6b0"/>
<line x1="276.68" y1="178.4" x2="276.68" y2="189.0" stroke="#f54d63" stroke-width="0.7"/>
<rect x="275.83" y="180.4" width="1.7" height="7.2" fill="#f54d63"/>
<line x1="279.03" y1="183.3" x2="279.03" y2="190.2" stroke="#3ed6b0" stroke-width="0.7"/>
<rect x="278.18" y="184.0" width="1.7" height="4.2" fill="#3ed6b0"/>
<line x1="281.38" y1="189.6" x2="281.38" y2="196.9" stroke="#3ed6b0" stroke-width="0.7"/>
<rect x="280.53" y="190.6" width="1.7" height="4.2" fill="#3ed6b0"/>
<line x1="283.73" y1="187.0" x2="283.73" y2="194.2" stroke="#f54d63" stroke-width="0.7"/>
<rect x="282.88" y="189.4" width="1.7" height="3.6" fill="#f54d63"/>
<line x1="286.08" y1="183.4" x2="286.08" y2="191.2" stroke="#f54d63" stroke-width="0.7"/>
<rect x="285.23" y="184.6" width="1.7" height="4.2" fill="#f54d63"/>
<line x1="288.43" y1="183.3" x2="288.43" y2="188.9" stroke="#3ed6b0" stroke-width="0.7"/>
<rect x="287.58" y="185.2" width="1.7" height="3.0" fill="#3ed6b0"/>
<line x1="290.78" y1="183.4" x2="290.78" y2="187.6" stroke="#f54d63" stroke-width="0.7"/>
<rect x="289.93" y="184.0" width="1.7" height="3.0" fill="#f54d63"/>
<line x1="293.13" y1="181.7" x2="293.13" y2="191.5" stroke="#3ed6b0" stroke-width="0.7"/>
<rect x="292.28" y="184.0" width="1.7" height="5.4" fill="#3ed6b0"/>
<line x1="295.48" y1="189.4" x2="295.48" y2="198.1" stroke="#3ed6b0" stroke-width="0.7"/>
<rect x="294.63" y="190.0" width="1.7" height="6.0" fill="#3ed6b0"/>
<line x1="297.83" y1="192.9" x2="297.83" y2="199.5" stroke="#f54d63" stroke-width="0.7"/>
<rect x="296.98" y="195.4" width="1.7" height="2.4" fill="#f54d63"/>
<line x1="300.18" y1="194.3" x2="300.18" y2="199.9" stroke="#3ed6b0" stroke-width="0.7"/>
<rect x="299.33" y="195.4" width="1.7" height="3.0" fill="#3ed6b0"/>
<line x1="302.53" y1="197.8" x2="302.53" y2="202.9" stroke="#3ed6b0" stroke-width="0.7"/>
<rect x="301.68" y="198.4" width="1.7" height="4.2" fill="#3ed6b0"/>
<line x1="304.88" y1="197.8" x2="304.88" y2="204.3" stroke="#f54d63" stroke-width="0.7"/>
<rect x="304.03" y="200.2" width="1.7" height="2.4" fill="#f54d63"/>
<line x1="307.23" y1="199.3" x2="307.23" y2="210.4" stroke="#3ed6b0" stroke-width="0.7"/>
<rect x="306.38" y="200.8" width="1.7" height="7.2" fill="#3ed6b0"/>
<line x1="309.58" y1="199.7" x2="309.58" y2="206.2" stroke="#3ed6b0" stroke-width="0.7"/>
<rect x="308.73" y="201.0" width="1.7" height="3.0" fill="#3ed6b0"/>
<line x1="311.93" y1="201.1" x2="311.93" y2="207.0" stroke="#3ed6b0" stroke-width="0.7"/>
<rect x="311.08" y="203.2" width="1.7" height="3.0" fill="#3ed6b0"/>
<line x1="314.28" y1="197.5" x2="314.28" y2="203.5" stroke="#f54d63" stroke-width="0.7"/>
<rect x="313.43" y="198.4" width="1.7" height="4.2" fill="#f54d63"/>
<line x1="316.63" y1="197.6" x2="316.63" y2="204.2" stroke="#3ed6b0" stroke-width="0.7"/>
<rect x="315.78" y="198.4" width="1.7" height="4.2" fill="#3ed6b0"/>
<line x1="318.97" y1="197.5" x2="318.97" y2="202.6" stroke="#f54d63" stroke-width="0.7"/>
<rect x="318.12" y="198.4" width="1.7" height="3.0" fill="#f54d63"/>
<line x1="321.32" y1="197.2" x2="321.32" y2="202.5" stroke="#3ed6b0" stroke-width="0.7"/>
<rect x="320.47" y="197.8" width="1.7" height="2.4" fill="#3ed6b0"/>
<line x1="323.67" y1="193.7" x2="323.67" y2="202.1" stroke="#f54d63" stroke-width="0.7"/>
<rect x="322.82" y="194.8" width="1.7" height="6.0" fill="#f54d63"/>
<line x1="326.02" y1="192.6" x2="326.02" y2="199.5" stroke="#3ed6b0" stroke-width="0.7"/>
<rect x="325.17" y="194.2" width="1.7" height="3.0" fill="#3ed6b0"/>
<line x1="328.37" y1="191.8" x2="328.37" y2="198.9" stroke="#f54d63" stroke-width="0.7"/>
<rect x="327.52" y="193.0" width="1.7" height="3.6" fill="#f54d63"/>
<line x1="330.72" y1="191.6" x2="330.72" y2="198.1" stroke="#3ed6b0" stroke-width="0.7"/>
<rect x="329.87" y="193.0" width="1.7" height="3.6" fill="#3ed6b0"/>
<line x1="333.07" y1="194.5" x2="333.07" y2="201.7" stroke="#3ed6b0" stroke-width="0.7"/>
<rect x="332.22" y="196.0" width="1.7" height="5.4" fill="#3ed6b0"/>
<line x1="335.42" y1="197.1" x2="335.42" y2="205.1" stroke="#f54d63" stroke-width="0.7"/>
<rect x="334.57" y="198.4" width="1.7" height="6.0" fill="#f54d63"/>
<line x1="337.77" y1="196.9" x2="337.77" y2="201.7" stroke="#3ed6b0" stroke-width="0.7"/>
<rect x="336.92" y="197.2" width="1.7" height="2.4" fill="#3ed6b0"/>
<line x1="340.12" y1="188.1" x2="340.12" y2="202.1" stroke="#f54d63" stroke-width="0.7"/>
<rect x="339.27" y="188.8" width="1.7" height="12.0" fill="#f54d63"/>
<line x1="342.47" y1="185.7" x2="342.47" y2="192.7" stroke="#f54d63" stroke-width="0.7"/>
<rect x="341.62" y="187.6" width="1.7" height="3.6" fill="#f54d63"/>
<line x1="344.82" y1="187.8" x2="344.82" y2="193.8" stroke="#3ed6b0" stroke-width="0.7"/>
<rect x="343.97" y="188.8" width="1.7" height="3.6" fill="#3ed6b0"/>
<line x1="347.17" y1="186.1" x2="347.17" y2="193.8" stroke="#f54d63" stroke-width="0.7"/>
<rect x="346.32" y="187.6" width="1.7" height="4.2" fill="#f54d63"/>
<line x1="349.52" y1="184.1" x2="349.52" y2="193.9" stroke="#3ed6b0" stroke-width="0.7"/>
<rect x="348.67" y="184.6" width="1.7" height="7.8" fill="#3ed6b0"/>
<line x1="351.87" y1="185.0" x2="351.87" y2="190.4" stroke="#3ed6b0" stroke-width="0.7"/>
<rect x="351.02" y="185.8" width="1.7" height="3.7" fill="#3ed6b0"/>
<line x1="354.22" y1="183.8" x2="354.22" y2="191.4" stroke="#f54d63" stroke-width="0.7"/>
<rect x="353.37" y="185.8" width="1.7" height="4.2" fill="#f54d63"/>
<line x1="356.57" y1="188.5" x2="356.57" y2="195.4" stroke="#3ed6b0" stroke-width="0.7"/>
<rect x="355.72" y="190.0" width="1.7" height="3.4" fill="#3ed6b0"/>
<line x1="358.92" y1="188.2" x2="358.92" y2="193.8" stroke="#3ed6b0" stroke-width="0.7"/>
<rect x="358.07" y="190.5" width="1.7" height="2.0" fill="#3ed6b0"/>
<line x1="361.27" y1="180.6" x2="361.27" y2="192.7" stroke="#f54d63" stroke-width="0.7"/>
<rect x="360.42" y="182.2" width="1.7" height="9.1" fill="#f54d63"/>
<line x1="363.62" y1="178.0" x2="363.62" y2="186.8" stroke="#3ed6b0" stroke-width="0.7"/>
<rect x="362.77" y="179.4" width="1.7" height="5.6" fill="#3ed6b0"/>
<line x1="365.97" y1="183.7" x2="365.97" y2="190.7" stroke="#3ed6b0" stroke-width="0.7"/>
<rect x="365.12" y="185.0" width="1.7" height="4.2" fill="#3ed6b0"/>
<line x1="368.32" y1="187.8" x2="368.32" y2="194.4" stroke="#f54d63" stroke-width="0.7"/>
<rect x="367.47" y="189.2" width="1.7" height="2.8" fill="#f54d63"/>
<line x1="370.67" y1="188.2" x2="370.67" y2="207.5" stroke="#3ed6b0" stroke-width="0.7"/>
<rect x="369.82" y="190.0" width="1.7" height="15.3" fill="#3ed6b0"/>
<line x1="373.02" y1="202.2" x2="373.02" y2="209.7" stroke="#3ed6b0" stroke-width="0.7"/>
<rect x="372.17" y="204.6" width="1.7" height="4.2" fill="#3ed6b0"/>
<line x1="375.37" y1="204.5" x2="375.37" y2="211.9" stroke="#f54d63" stroke-width="0.7"/>
<rect x="374.52" y="206.0" width="1.7" height="3.5" fill="#f54d63"/>
<line x1="377.72" y1="203.4" x2="377.72" y2="209.6" stroke="#f54d63" stroke-width="0.7"/>
<rect x="376.87" y="205.5" width="1.7" height="3.5" fill="#f54d63"/>
<line x1="380.07" y1="204.0" x2="380.07" y2="210.1" stroke="#f54d63" stroke-width="0.7"/>
<rect x="379.22" y="204.6" width="1.7" height="4.2" fill="#f54d63"/>
<line x1="382.42" y1="191.5" x2="382.42" y2="204.0" stroke="#f54d63" stroke-width="0.7"/>
<rect x="381.57" y="192.0" width="1.7" height="11.2" fill="#f54d63"/>
<line x1="384.77" y1="184.5" x2="384.77" y2="196.8" stroke="#f54d63" stroke-width="0.7"/>
<rect x="383.92" y="185.0" width="1.7" height="10.0" fill="#f54d63"/>
<line x1="387.12" y1="176.0" x2="387.12" y2="188.7" stroke="#f54d63" stroke-width="0.7"/>
<rect x="386.27" y="178.0" width="1.7" height="8.4" fill="#f54d63"/>
<line x1="389.47" y1="173.4" x2="389.47" y2="184.3" stroke="#f54d63" stroke-width="0.7"/>
<rect x="388.62" y="174.0" width="1.7" height="8.4" fill="#f54d63"/>
<line x1="391.82" y1="159.1" x2="391.82" y2="180.7" stroke="#f54d63" stroke-width="0.7"/>
<rect x="390.97" y="171.7" width="1.7" height="8.4" fill="#f54d63"/>
<line x1="394.17" y1="173.0" x2="394.17" y2="184.6" stroke="#3ed6b0" stroke-width="0.7"/>
<rect x="393.32" y="175.2" width="1.7" height="7.0" fill="#3ed6b0"/>
<line x1="396.52" y1="177.9" x2="396.52" y2="186.7" stroke="#3ed6b0" stroke-width="0.7"/>
<rect x="395.67" y="178.7" width="1.7" height="5.6" fill="#3ed6b0"/>
<line x1="398.87" y1="181.8" x2="398.87" y2="188.5" stroke="#3ed6b0" stroke-width="0.7"/>
<rect x="398.02" y="183.0" width="1.7" height="4.1" fill="#3ed6b0"/>
<line x1="401.22" y1="179.0" x2="401.22" y2="189.9" stroke="#f54d63" stroke-width="0.7"/>
<rect x="400.37" y="181.5" width="1.7" height="6.3" fill="#f54d63"/>
<line x1="403.57" y1="179.4" x2="403.57" y2="186.9" stroke="#3ed6b0" stroke-width="0.7"/>
<rect x="402.72" y="180.1" width="1.7" height="5.6" fill="#3ed6b0"/>
<line x1="405.92" y1="184.3" x2="405.92" y2="188.8" stroke="#f54d63" stroke-width="0.7"/>
<rect x="405.07" y="185.7" width="1.7" height="2.1" fill="#f54d63"/>
<line x1="408.27" y1="183.6" x2="408.27" y2="189.5" stroke="#3ed6b0" stroke-width="0.7"/>
<rect x="407.42" y="184.3" width="1.7" height="4.2" fill="#3ed6b0"/>
<line x1="410.62" y1="186.6" x2="410.62" y2="193.7" stroke="#3ed6b0" stroke-width="0.7"/>
<rect x="409.77" y="188.5" width="1.7" height="4.9" fill="#3ed6b0"/>
<line x1="412.97" y1="190.5" x2="412.97" y2="197.5" stroke="#3ed6b0" stroke-width="0.7"/>
<rect x="412.12" y="192.0" width="1.7" height="4.2" fill="#3ed6b0"/>
<line x1="415.32" y1="194.5" x2="415.32" y2="201.4" stroke="#3ed6b0" stroke-width="0.7"/>
<rect x="414.47" y="194.8" width="1.7" height="5.6" fill="#3ed6b0"/>
<line x1="417.67" y1="198.7" x2="417.67" y2="206.0" stroke="#3ed6b0" stroke-width="0.7"/>
<rect x="416.82" y="200.4" width="1.7" height="4.2" fill="#3ed6b0"/>
<line x1="420.02" y1="201.4" x2="420.02" y2="207.8" stroke="#f54d63" stroke-width="0.7"/>
<rect x="419.17" y="201.8" width="1.7" height="3.5" fill="#f54d63"/>
<line x1="422.37" y1="198.0" x2="422.37" y2="207.2" stroke="#f54d63" stroke-width="0.7"/>
<rect x="421.52" y="200.0" width="1.7" height="4.8" fill="#f54d63"/>
<line x1="424.72" y1="199.5" x2="424.72" y2="205.1" stroke="#3ed6b0" stroke-width="0.7"/>
<rect x="423.87" y="200.0" width="1.7" height="4.2" fill="#3ed6b0"/>
<line x1="427.07" y1="200.2" x2="427.07" y2="207.4" stroke="#f54d63" stroke-width="0.7"/>
<rect x="426.22" y="200.6" width="1.7" height="4.8" fill="#f54d63"/>
<line x1="429.42" y1="199.6" x2="429.42" y2="203.6" stroke="#3ed6b0" stroke-width="0.7"/>
<rect x="428.57" y="200.5" width="1.7" height="2.5" fill="#3ed6b0"/>
<line x1="431.76" y1="199.8" x2="431.76" y2="205.8" stroke="#f54d63" stroke-width="0.7"/>
<rect x="430.91" y="201.0" width="1.7" height="2.5" fill="#f54d63"/>
<line x1="434.11" y1="197.9" x2="434.11" y2="203.9" stroke="#3ed6b0" stroke-width="0.7"/>
<rect x="433.26" y="200.0" width="1.7" height="3.0" fill="#3ed6b0"/>
<line x1="436.46" y1="198.2" x2="436.46" y2="204.1" stroke="#3ed6b0" stroke-width="0.7"/>
<rect x="435.61" y="198.8" width="1.7" height="3.0" fill="#3ed6b0"/>
<line x1="438.81" y1="199.6" x2="438.81" y2="209.6" stroke="#3ed6b0" stroke-width="0.7"/>
<rect x="437.96" y="201.2" width="1.7" height="6.6" fill="#3ed6b0"/>
<line x1="441.16" y1="203.7" x2="441.16" y2="208.2" stroke="#f54d63" stroke-width="0.7"/>
<rect x="440.31" y="204.2" width="1.7" height="3.6" fill="#f54d63"/>
<line x1="443.51" y1="201.8" x2="443.51" y2="207.8" stroke="#f54d63" stroke-width="0.7"/>
<rect x="442.66" y="203.6" width="1.7" height="3.0" fill="#f54d63"/>
<line x1="445.86" y1="203.1" x2="445.86" y2="207.8" stroke="#3ed6b0" stroke-width="0.7"/>
<rect x="445.01" y="203.6" width="1.7" height="1.8" fill="#3ed6b0"/>
<line x1="448.21" y1="202.5" x2="448.21" y2="208.7" stroke="#3ed6b0" stroke-width="0.7"/>
<rect x="447.36" y="204.2" width="1.7" height="2.4" fill="#3ed6b0"/>
<line x1="450.56" y1="203.1" x2="450.56" y2="208.2" stroke="#f54d63" stroke-width="0.7"/>
<rect x="449.71" y="203.6" width="1.7" height="2.4" fill="#f54d63"/>
<line x1="452.91" y1="202.0" x2="452.91" y2="207.0" stroke="#3ed6b0" stroke-width="0.7"/>
<rect x="452.06" y="202.4" width="1.7" height="2.4" fill="#3ed6b0"/>
<line x1="455.26" y1="197.5" x2="455.26" y2="204.6" stroke="#f54d63" stroke-width="0.7"/>
<rect x="454.41" y="198.8" width="1.7" height="4.8" fill="#f54d63"/>
<line x1="457.61" y1="196.9" x2="457.61" y2="203.7" stroke="#f54d63" stroke-width="0.7"/>
<rect x="456.76" y="198.4" width="1.7" height="3.0" fill="#f54d63"/>
<line x1="459.96" y1="197.1" x2="459.96" y2="201.1" stroke="#f54d63" stroke-width="0.7"/>
<rect x="459.11" y="198.0" width="1.7" height="2.5" fill="#f54d63"/>
<line x1="462.31" y1="197.0" x2="462.31" y2="201.6" stroke="#3ed6b0" stroke-width="0.7"/>
<rect x="461.46" y="198.5" width="1.7" height="2.3" fill="#3ed6b0"/>
<line x1="464.66" y1="200.9" x2="464.66" y2="208.7" stroke="#3ed6b0" stroke-width="0.7"/>
<rect x="463.81" y="201.4" width="1.7" height="6.6" fill="#3ed6b0"/>
<line x1="467.01" y1="210.0" x2="467.01" y2="216.5" stroke="#3ed6b0" stroke-width="0.7"/>
<rect x="466.16" y="210.4" width="1.7" height="5.4" fill="#3ed6b0"/>
<line x1="469.36" y1="210.6" x2="469.36" y2="216.2" stroke="#f54d63" stroke-width="0.7"/>
<rect x="468.51" y="211.6" width="1.7" height="3.6" fill="#f54d63"/>
<line x1="471.71" y1="210.0" x2="471.71" y2="216.7" stroke="#3ed6b0" stroke-width="0.7"/>
<rect x="470.86" y="212.0" width="1.7" height="3.8" fill="#3ed6b0"/>
<line x1="474.06" y1="209.0" x2="474.06" y2="214.1" stroke="#f54d63" stroke-width="0.7"/>
<rect x="473.21" y="210.4" width="1.7" height="3.0" fill="#f54d63"/>
<line x1="476.41" y1="205.7" x2="476.41" y2="213.1" stroke="#f54d63" stroke-width="0.7"/>
<rect x="475.56" y="206.8" width="1.7" height="6.0" fill="#f54d63"/>
<line x1="478.76" y1="201.7" x2="478.76" y2="207.1" stroke="#f54d63" stroke-width="0.7"/>
<rect x="477.91" y="202.6" width="1.7" height="4.2" fill="#f54d63"/>
<line x1="481.11" y1="201.3" x2="481.11" y2="207.7" stroke="#f54d63" stroke-width="0.7"/>
<rect x="480.26" y="203.2" width="1.7" height="3.0" fill="#f54d63"/>
<line x1="483.46" y1="203.1" x2="483.46" y2="208.7" stroke="#3ed6b0" stroke-width="0.7"/>
<rect x="482.61" y="203.8" width="1.7" height="3.6" fill="#3ed6b0"/>
<line x1="485.81" y1="202.0" x2="485.81" y2="207.9" stroke="#3ed6b0" stroke-width="0.7"/>
<rect x="484.96" y="204.4" width="1.7" height="3.0" fill="#3ed6b0"/>
<line x1="488.16" y1="199.9" x2="488.16" y2="208.7" stroke="#f54d63" stroke-width="0.7"/>
<rect x="487.31" y="202.0" width="1.7" height="5.4" fill="#f54d63"/>
<line x1="490.51" y1="200.6" x2="490.51" y2="207.1" stroke="#f54d63" stroke-width="0.7"/>
<rect x="489.66" y="202.0" width="1.7" height="3.0" fill="#f54d63"/>
<line x1="492.86" y1="200.2" x2="492.86" y2="205.8" stroke="#f54d63" stroke-width="0.7"/>
<rect x="492.01" y="201.4" width="1.7" height="3.0" fill="#f54d63"/>
<line x1="495.21" y1="199.0" x2="495.21" y2="205.5" stroke="#3ed6b0" stroke-width="0.7"/>
<rect x="494.36" y="200.8" width="1.7" height="2.2" fill="#3ed6b0"/>
<line x1="497.56" y1="198.4" x2="497.56" y2="204.4" stroke="#3ed6b0" stroke-width="0.7"/>
<rect x="496.71" y="199.5" width="1.7" height="2.8" fill="#3ed6b0"/>
<line x1="499.91" y1="198.3" x2="499.91" y2="204.0" stroke="#3ed6b0" stroke-width="0.7"/>
<rect x="499.06" y="200.2" width="1.7" height="2.1" fill="#3ed6b0"/>
<line x1="502.26" y1="199.3" x2="502.26" y2="203.6" stroke="#f54d63" stroke-width="0.7"/>
<rect x="501.41" y="200.5" width="1.7" height="2.0" fill="#f54d63"/>
<line x1="504.61" y1="197.6" x2="504.61" y2="202.2" stroke="#f54d63" stroke-width="0.7"/>
<rect x="503.76" y="198.0" width="1.7" height="3.6" fill="#f54d63"/>
<line x1="506.96" y1="199.0" x2="506.96" y2="203.5" stroke="#3ed6b0" stroke-width="0.7"/>
<rect x="506.11" y="199.5" width="1.7" height="2.1" fill="#3ed6b0"/>
<line x1="509.31" y1="196.5" x2="509.31" y2="202.3" stroke="#3ed6b0" stroke-width="0.7"/>
<rect x="508.46" y="197.4" width="1.7" height="4.2" fill="#3ed6b0"/>
<line x1="511.66" y1="199.7" x2="511.66" y2="204.5" stroke="#3ed6b0" stroke-width="0.7"/>
<rect x="510.81" y="200.2" width="1.7" height="2.1" fill="#3ed6b0"/>
<line x1="514.01" y1="197.3" x2="514.01" y2="203.4" stroke="#f54d63" stroke-width="0.7"/>
<rect x="513.16" y="199.5" width="1.7" height="2.1" fill="#f54d63"/>
<line x1="516.36" y1="180.4" x2="516.36" y2="191.2" stroke="#f54d63" stroke-width="0.7"/>
<rect x="515.51" y="181.3" width="1.7" height="9.1" fill="#f54d63"/>
<line x1="518.71" y1="180.4" x2="518.71" y2="188.9" stroke="#3ed6b0" stroke-width="0.7"/>
<rect x="517.86" y="181.3" width="1.7" height="6.3" fill="#3ed6b0"/>
<line x1="521.06" y1="180.7" x2="521.06" y2="188.9" stroke="#3ed6b0" stroke-width="0.7"/>
<rect x="520.21" y="181.3" width="1.7" height="6.3" fill="#3ed6b0"/>
<line x1="523.41" y1="167.1" x2="523.41" y2="183.4" stroke="#f54d63" stroke-width="0.7"/>
<rect x="522.56" y="168.0" width="1.7" height="13.0" fill="#f54d63"/>
<line x1="525.76" y1="143.6" x2="525.76" y2="157.9" stroke="#3ed6b0" stroke-width="0.7"/>
<rect x="524.91" y="143.6" width="1.7" height="12.8" fill="#3ed6b0"/>
<line x1="528.11" y1="147.6" x2="528.11" y2="160.4" stroke="#f54d63" stroke-width="0.7"/>
<rect x="527.26" y="148.4" width="1.7" height="9.6" fill="#f54d63"/>
<line x1="530.46" y1="141.0" x2="530.46" y2="155.9" stroke="#f54d63" stroke-width="0.7"/>
<rect x="529.61" y="142.0" width="1.7" height="12.8" fill="#f54d63"/>
<line x1="532.81" y1="132.1" x2="532.81" y2="146.3" stroke="#f54d63" stroke-width="0.7"/>
<rect x="531.96" y="132.4" width="1.7" height="12.8" fill="#f54d63"/>
<line x1="535.16" y1="110.0" x2="535.16" y2="129.0" stroke="#3ed6b0" stroke-width="0.7"/>
<rect x="534.31" y="122.8" width="1.7" height="4.8" fill="#3ed6b0"/>
<line x1="537.51" y1="120.5" x2="537.51" y2="133.8" stroke="#f54d63" stroke-width="0.7"/>
<rect x="536.66" y="121.2" width="1.7" height="11.2" fill="#f54d63"/>
<line x1="539.86" y1="125.7" x2="539.86" y2="134.9" stroke="#f54d63" stroke-width="0.7"/>
<rect x="539.01" y="126.0" width="1.7" height="8.0" fill="#f54d63"/>
<line x1="542.21" y1="127.1" x2="542.21" y2="136.8" stroke="#3ed6b0" stroke-width="0.7"/>
<rect x="541.36" y="127.6" width="1.7" height="8.0" fill="#3ed6b0"/>
<line x1="544.55" y1="121.6" x2="544.55" y2="133.5" stroke="#f54d63" stroke-width="0.7"/>
<rect x="543.70" y="122.0" width="1.7" height="11.2" fill="#f54d63"/>
<line x1="546.90" y1="127.4" x2="546.90" y2="142.8" stroke="#3ed6b0" stroke-width="0.7"/>
<rect x="546.05" y="128.4" width="1.7" height="13.6" fill="#3ed6b0"/>
<line x1="549.25" y1="140.4" x2="549.25" y2="153.1" stroke="#f54d63" stroke-width="0.7"/>
<rect x="548.40" y="142.0" width="1.7" height="9.6" fill="#f54d63"/>
<line x1="551.60" y1="136.8" x2="551.60" y2="150.1" stroke="#f54d63" stroke-width="0.7"/>
<rect x="550.75" y="138.8" width="1.7" height="9.6" fill="#f54d63"/>
<line x1="553.95" y1="124.8" x2="553.95" y2="148.6" stroke="#f54d63" stroke-width="0.7"/>
<rect x="553.10" y="128.4" width="1.7" height="18.0" fill="#f54d63"/>
<line x1="556.30" y1="128.8" x2="556.30" y2="142.0" stroke="#f54d63" stroke-width="0.7"/>
<rect x="555.45" y="130.0" width="1.7" height="11.0" fill="#f54d63"/>
<line x1="558.65" y1="127.7" x2="558.65" y2="145.2" stroke="#3ed6b0" stroke-width="0.7"/>
<rect x="557.80" y="130.2" width="1.7" height="14.4" fill="#3ed6b0"/>
<line x1="561.00" y1="143.6" x2="561.00" y2="158.1" stroke="#3ed6b0" stroke-width="0.7"/>
<rect x="560.15" y="145.5" width="1.7" height="10.9" fill="#3ed6b0"/>
<line x1="563.35" y1="146.9" x2="563.35" y2="157.6" stroke="#f54d63" stroke-width="0.7"/>
<rect x="562.50" y="147.3" width="1.7" height="8.2" fill="#f54d63"/>
<line x1="565.70" y1="147.7" x2="565.70" y2="162.6" stroke="#3ed6b0" stroke-width="0.7"/>
<rect x="564.85" y="150.0" width="1.7" height="10.9" fill="#3ed6b0"/>
<line x1="568.05" y1="147.2" x2="568.05" y2="161.1" stroke="#f54d63" stroke-width="0.7"/>
<rect x="567.20" y="149.1" width="1.7" height="9.9" fill="#f54d63"/>
<line x1="570.40" y1="151.2" x2="570.40" y2="161.5" stroke="#f54d63" stroke-width="0.7"/>
<rect x="569.55" y="151.8" width="1.7" height="8.2" fill="#f54d63"/>
<line x1="572.75" y1="112.2" x2="572.75" y2="144.9" stroke="#3ed6b0" stroke-width="0.7"/>
<rect x="571.90" y="112.2" width="1.7" height="30.6" fill="#3ed6b0"/>
<line x1="575.10" y1="138.9" x2="575.10" y2="152.1" stroke="#f54d63" stroke-width="0.7"/>
<rect x="574.25" y="141.0" width="1.7" height="9.0" fill="#f54d63"/>
<line x1="577.45" y1="145.7" x2="577.45" y2="160.5" stroke="#3ed6b0" stroke-width="0.7"/>
<rect x="576.60" y="147.3" width="1.7" height="10.9" fill="#3ed6b0"/>
<line x1="579.80" y1="157.2" x2="579.80" y2="169.0" stroke="#3ed6b0" stroke-width="0.7"/>
<rect x="578.95" y="159.0" width="1.7" height="8.2" fill="#3ed6b0"/>
<line x1="582.15" y1="161.9" x2="582.15" y2="170.3" stroke="#3ed6b0" stroke-width="0.7"/>
<rect x="581.30" y="162.7" width="1.7" height="7.2" fill="#3ed6b0"/>
<line x1="584.50" y1="164.8" x2="584.50" y2="172.8" stroke="#f54d63" stroke-width="0.7"/>
<rect x="583.65" y="165.4" width="1.7" height="6.3" fill="#f54d63"/>
<line x1="586.85" y1="167.5" x2="586.85" y2="174.7" stroke="#3ed6b0" stroke-width="0.7"/>
<rect x="586.00" y="168.0" width="1.7" height="4.6" fill="#3ed6b0"/>
<line x1="589.20" y1="169.3" x2="589.20" y2="176.1" stroke="#f54d63" stroke-width="0.7"/>
<rect x="588.35" y="170.8" width="1.7" height="3.6" fill="#f54d63"/>
<line x1="591.55" y1="168.3" x2="591.55" y2="175.8" stroke="#f54d63" stroke-width="0.7"/>
<rect x="590.70" y="170.0" width="1.7" height="4.0" fill="#f54d63"/>
<line x1="593.90" y1="169.4" x2="593.90" y2="175.6" stroke="#f54d63" stroke-width="0.7"/>
<rect x="593.05" y="170.8" width="1.7" height="4.5" fill="#f54d63"/>
<line x1="596.25" y1="162.4" x2="596.25" y2="176.3" stroke="#f54d63" stroke-width="0.7"/>
<rect x="595.40" y="164.5" width="1.7" height="9.9" fill="#f54d63"/>
<line x1="598.60" y1="165.8" x2="598.60" y2="173.2" stroke="#3ed6b0" stroke-width="0.7"/>
<rect x="597.75" y="167.2" width="1.7" height="4.5" fill="#3ed6b0"/>
<path d="M391.90,177.40 Q394.21,187.23 400.80,192.30 Q391.90,189.30 383.00,192.30 Q389.59,187.23 391.90,177.40 Z M391.90,183.50 Q394.21,193.33 400.80,198.40 Q391.90,195.40 383.00,198.40 Q389.59,193.33 391.90,183.50 Z M391.90,189.60 Q394.21,199.43 400.80,204.50 Q391.90,201.50 383.00,204.50 Q389.59,199.43 391.90,189.60 Z" fill="#ffa500"/>
<path d="M525.90,153.40 Q528.21,163.23 534.80,168.30 Q525.90,165.30 517.00,168.30 Q523.59,163.23 525.90,153.40 Z M525.90,159.50 Q528.21,169.33 534.80,174.40 Q525.90,171.40 517.00,174.40 Q523.59,169.33 525.90,159.50 Z M525.90,165.60 Q528.21,175.43 534.80,180.50 Q525.90,177.50 517.00,180.50 Q523.59,175.43 525.90,165.60 Z" fill="#ffa500"/>
<rect x="36.20" y="318.2" width="1.6" height="6.2" fill="#3ed6b0"/>
<rect x="38.55" y="320.3" width="1.6" height="4.1" fill="#3ed6b0"/>
<rect x="40.90" y="317.9" width="1.6" height="6.5" fill="#f54d63"/>
<rect x="43.25" y="319.6" width="1.6" height="4.8" fill="#f54d63"/>
<rect x="45.60" y="320.3" width="1.6" height="4.1" fill="#f54d63"/>
<rect x="47.95" y="319.6" width="1.6" height="4.8" fill="#3ed6b0"/>
<rect x="50.30" y="317.9" width="1.6" height="6.5" fill="#f54d63"/>
<rect x="52.65" y="319.8" width="1.6" height="4.6" fill="#3ed6b0"/>
<rect x="55.00" y="317.9" width="1.6" height="6.5" fill="#3ed6b0"/>
<rect x="57.35" y="317.1" width="1.6" height="7.3" fill="#3ed6b0"/>
<rect x="59.70" y="318.8" width="1.6" height="5.6" fill="#3ed6b0"/>
<rect x="62.05" y="319.2" width="1.6" height="5.2" fill="#f54d63"/>
<rect x="64.40" y="318.8" width="1.6" height="5.6" fill="#f54d63"/>
<rect x="66.75" y="318.1" width="1.6" height="6.3" fill="#f54d63"/>
<rect x="69.10" y="317.8" width="1.6" height="6.6" fill="#f54d63"/>
<rect x="71.45" y="318.3" width="1.6" height="6.1" fill="#f54d63"/>
<rect x="73.80" y="318.3" width="1.6" height="6.1" fill="#3ed6b0"/>
<rect x="76.15" y="320.3" width="1.6" height="4.1" fill="#3ed6b0"/>
<rect x="78.50" y="319.6" width="1.6" height="4.8" fill="#f54d63"/>
<rect x="80.85" y="319.2" width="1.6" height="5.2" fill="#3ed6b0"/>
<rect x="83.20" y="317.3" width="1.6" height="7.1" fill="#3ed6b0"/>
<rect x="85.55" y="319.0" width="1.6" height="5.4" fill="#3ed6b0"/>
<rect x="87.90" y="318.0" width="1.6" height="6.4" fill="#f54d63"/>
<rect x="90.25" y="320.2" width="1.6" height="4.2" fill="#f54d63"/>
<rect x="92.59" y="320.0" width="1.6" height="4.4" fill="#3ed6b0"/>
<rect x="94.94" y="319.2" width="1.6" height="5.2" fill="#f54d63"/>
<rect x="97.29" y="317.6" width="1.6" height="6.8" fill="#f54d63"/>
<rect x="99.64" y="317.5" width="1.6" height="6.9" fill="#f54d63"/>
<rect x="101.99" y="317.6" width="1.6" height="6.8" fill="#f54d63"/>
<rect x="104.34" y="319.1" width="1.6" height="5.3" fill="#f54d63"/>
<rect x="106.69" y="318.2" width="1.6" height="6.2" fill="#3ed6b0"/>
<rect x="109.04" y="318.4" width="1.6" height="6.0" fill="#3ed6b0"/>
<rect x="111.39" y="318.4" width="1.6" height="6.0" fill="#3ed6b0"/>
<rect x="113.74" y="319.7" width="1.6" height="4.7" fill="#f54d63"/>
<rect x="116.09" y="310.0" width="1.6" height="14.4" fill="#3ed6b0"/>
<rect x="118.44" y="319.4" width="1.6" height="5.0" fill="#f54d63"/>
<rect x="120.79" y="306.0" width="1.6" height="18.4" fill="#f54d63"/>
<rect x="123.14" y="316.5" width="1.6" height="7.9" fill="#3ed6b0"/>
<rect x="125.49" y="320.5" width="1.6" height="3.9" fill="#f54d63"/>
<rect x="127.84" y="318.9" width="1.6" height="5.5" fill="#3ed6b0"/>
<rect x="130.19" y="317.6" width="1.6" height="6.8" fill="#3ed6b0"/>
<rect x="132.54" y="317.1" width="1.6" height="7.3" fill="#f54d63"/>
<rect x="134.89" y="318.9" width="1.6" height="5.5" fill="#f54d63"/>
<rect x="137.24" y="319.6" width="1.6" height="4.8" fill="#3ed6b0"/>
<rect x="139.59" y="319.8" width="1.6" height="4.6" fill="#f54d63"/>
<rect x="141.94" y="317.2" width="1.6" height="7.2" fill="#f54d63"/>
<rect x="144.29" y="319.8" width="1.6" height="4.6" fill="#f54d63"/>
<rect x="146.64" y="318.5" width="1.6" height="5.9" fill="#3ed6b0"/>
<rect x="148.99" y="320.0" width="1.6" height="4.4" fill="#3ed6b0"/>
<rect x="151.34" y="318.7" width="1.6" height="5.7" fill="#3ed6b0"/>
<rect x="153.69" y="317.1" width="1.6" height="7.3" fill="#f54d63"/>
<rect x="156.04" y="320.1" width="1.6" height="4.3" fill="#3ed6b0"/>
<rect x="158.39" y="317.6" width="1.6" height="6.8" fill="#3ed6b0"/>
<rect x="160.74" y="318.7" width="1.6" height="5.7" fill="#3ed6b0"/>
<rect x="163.09" y="316.4" width="1.6" height="8.0" fill="#f54d63"/>
<rect x="165.44" y="318.0" width="1.6" height="6.4" fill="#3ed6b0"/>
<rect x="167.79" y="319.7" width="1.6" height="4.7" fill="#3ed6b0"/>
<rect x="170.14" y="317.3" width="1.6" height="7.1" fill="#f54d63"/>
<rect x="172.49" y="318.8" width="1.6" height="5.6" fill="#3ed6b0"/>
<rect x="174.84" y="320.5" width="1.6" height="3.9" fill="#f54d63"/>
<rect x="177.19" y="320.5" width="1.6" height="3.9" fill="#3ed6b0"/>
<rect x="179.54" y="318.8" width="1.6" height="5.6" fill="#f54d63"/>
<rect x="181.89" y="318.9" width="1.6" height="5.5" fill="#3ed6b0"/>
<rect x="184.24" y="319.5" width="1.6" height="4.9" fill="#3ed6b0"/>
<rect x="186.59" y="320.0" width="1.6" height="4.4" fill="#f54d63"/>
<rect x="188.94" y="319.3" width="1.6" height="5.1" fill="#3ed6b0"/>
<rect x="191.29" y="319.4" width="1.6" height="5.0" fill="#f54d63"/>
<rect x="193.64" y="317.5" width="1.6" height="6.9" fill="#3ed6b0"/>
<rect x="195.99" y="320.5" width="1.6" height="3.9" fill="#f54d63"/>
<rect x="198.34" y="317.9" width="1.6" height="6.5" fill="#f54d63"/>
<rect x="200.69" y="317.6" width="1.6" height="6.8" fill="#f54d63"/>
<rect x="203.04" y="320.1" width="1.6" height="4.3" fill="#f54d63"/>
<rect x="205.38" y="317.2" width="1.6" height="7.2" fill="#f54d63"/>
<rect x="207.73" y="318.0" width="1.6" height="6.4" fill="#f54d63"/>
<rect x="210.08" y="317.3" width="1.6" height="7.1" fill="#f54d63"/>
<rect x="212.43" y="319.5" width="1.6" height="4.9" fill="#3ed6b0"/>
<rect x="214.78" y="319.2" width="1.6" height="5.2" fill="#3ed6b0"/>
<rect x="217.13" y="319.1" width="1.6" height="5.3" fill="#f54d63"/>
<rect x="219.48" y="317.0" width="1.6" height="7.4" fill="#f54d63"/>
<rect x="221.83" y="302.1" width="1.6" height="22.3" fill="#f54d63"/>
<rect x="224.18" y="317.4" width="1.6" height="7.0" fill="#f54d63"/>
<rect x="226.53" y="317.1" width="1.6" height="7.3" fill="#f54d63"/>
<rect x="228.88" y="317.8" width="1.6" height="6.6" fill="#f54d63"/>
<rect x="231.23" y="318.9" width="1.6" height="5.5" fill="#3ed6b0"/>
<rect x="233.58" y="318.7" width="1.6" height="5.7" fill="#3ed6b0"/>
<rect x="235.93" y="315.1" width="1.6" height="9.3" fill="#3ed6b0"/>
<rect x="238.28" y="317.8" width="1.6" height="6.6" fill="#f54d63"/>
<rect x="240.63" y="304.4" width="1.6" height="20.0" fill="#3ed6b0"/>
<rect x="242.98" y="317.9" width="1.6" height="6.5" fill="#f54d63"/>
<rect x="245.33" y="317.9" width="1.6" height="6.5" fill="#3ed6b0"/>
<rect x="247.68" y="316.7" width="1.6" height="7.7" fill="#3ed6b0"/>
<rect x="250.03" y="318.2" width="1.6" height="6.2" fill="#3ed6b0"/>
<rect x="252.38" y="317.3" width="1.6" height="7.1" fill="#f54d63"/>
<rect x="254.73" y="314.5" width="1.6" height="9.9" fill="#3ed6b0"/>
<rect x="257.08" y="314.8" width="1.6" height="9.6" fill="#f54d63"/>
<rect x="259.43" y="315.2" width="1.6" height="9.2" fill="#f54d63"/>
<rect x="261.78" y="316.1" width="1.6" height="8.3" fill="#3ed6b0"/>
<rect x="264.13" y="314.7" width="1.6" height="9.7" fill="#3ed6b0"/>
<rect x="266.48" y="314.6" width="1.6" height="9.8" fill="#3ed6b0"/>
<rect x="268.83" y="316.5" width="1.6" height="7.9" fill="#f54d63"/>
<rect x="271.18" y="315.6" width="1.6" height="8.8" fill="#f54d63"/>
<rect x="273.53" y="318.9" width="1.6" height="5.5" fill="#3ed6b0"/>
<rect x="275.88" y="315.6" width="1.6" height="8.8" fill="#f54d63"/>
<rect x="278.23" y="317.0" width="1.6" height="7.4" fill="#3ed6b0"/>
<rect x="280.58" y="315.5" width="1.6" height="8.9" fill="#3ed6b0"/>
<rect x="282.93" y="316.0" width="1.6" height="8.4" fill="#f54d63"/>
<rect x="285.28" y="317.8" width="1.6" height="6.6" fill="#f54d63"/>
<rect x="287.63" y="318.9" width="1.6" height="5.5" fill="#3ed6b0"/>
<rect x="289.98" y="314.6" width="1.6" height="9.8" fill="#f54d63"/>
<rect x="292.33" y="318.5" width="1.6" height="5.9" fill="#3ed6b0"/>
<rect x="294.68" y="316.8" width="1.6" height="7.6" fill="#3ed6b0"/>
<rect x="297.03" y="317.5" width="1.6" height="6.9" fill="#f54d63"/>
<rect x="299.38" y="317.7" width="1.6" height="6.7" fill="#3ed6b0"/>
<rect x="301.73" y="315.5" width="1.6" height="8.9" fill="#3ed6b0"/>
<rect x="304.08" y="314.4" width="1.6" height="10.0" fill="#f54d63"/>
<rect x="306.43" y="317.9" width="1.6" height="6.5" fill="#3ed6b0"/>
<rect x="308.78" y="316.0" width="1.6" height="8.4" fill="#3ed6b0"/>
<rect x="311.13" y="317.7" width="1.6" height="6.7" fill="#3ed6b0"/>
<rect x="313.48" y="316.4" width="1.6" height="8.0" fill="#f54d63"/>
<rect x="315.83" y="317.2" width="1.6" height="7.2" fill="#3ed6b0"/>
<rect x="318.17" y="318.3" width="1.6" height="6.1" fill="#f54d63"/>
<rect x="320.52" y="320.0" width="1.6" height="4.4" fill="#3ed6b0"/>
<rect x="322.87" y="319.8" width="1.6" height="4.6" fill="#f54d63"/>
<rect x="325.22" y="317.3" width="1.6" height="7.1" fill="#3ed6b0"/>
<rect x="327.57" y="318.8" width="1.6" height="5.6" fill="#f54d63"/>
<rect x="329.92" y="319.8" width="1.6" height="4.6" fill="#3ed6b0"/>
<rect x="332.27" y="317.3" width="1.6" height="7.1" fill="#3ed6b0"/>
<rect x="334.62" y="317.0" width="1.6" height="7.4" fill="#f54d63"/>
<rect x="336.97" y="318.9" width="1.6" height="5.5" fill="#3ed6b0"/>
<rect x="339.32" y="310.0" width="1.6" height="14.4" fill="#f54d63"/>
<rect x="341.67" y="319.9" width="1.6" height="4.5" fill="#f54d63"/>
<rect x="344.02" y="320.2" width="1.6" height="4.2" fill="#3ed6b0"/>
<rect x="346.37" y="319.3" width="1.6" height="5.1" fill="#f54d63"/>
<rect x="348.72" y="320.2" width="1.6" height="4.2" fill="#3ed6b0"/>
<rect x="351.07" y="319.7" width="1.6" height="4.7" fill="#3ed6b0"/>
<rect x="353.42" y="319.6" width="1.6" height="4.8" fill="#f54d63"/>
<rect x="355.77" y="318.5" width="1.6" height="5.9" fill="#3ed6b0"/>
<rect x="358.12" y="317.4" width="1.6" height="7.0" fill="#3ed6b0"/>
<rect x="360.47" y="307.9" width="1.6" height="16.5" fill="#f54d63"/>
<rect x="362.82" y="319.1" width="1.6" height="5.3" fill="#3ed6b0"/>
<rect x="365.17" y="319.1" width="1.6" height="5.3" fill="#3ed6b0"/>
<rect x="367.52" y="318.7" width="1.6" height="5.7" fill="#f54d63"/>
<rect x="369.87" y="313.0" width="1.6" height="11.4" fill="#3ed6b0"/>
<rect x="372.22" y="319.3" width="1.6" height="5.1" fill="#3ed6b0"/>
<rect x="374.57" y="320.3" width="1.6" height="4.1" fill="#f54d63"/>
<rect x="376.92" y="319.6" width="1.6" height="4.8" fill="#f54d63"/>
<rect x="379.27" y="317.1" width="1.6" height="7.3" fill="#f54d63"/>
<rect x="381.62" y="320.1" width="1.6" height="4.3" fill="#f54d63"/>
<rect x="383.97" y="318.8" width="1.6" height="5.6" fill="#f54d63"/>
<rect x="386.32" y="318.3" width="1.6" height="6.1" fill="#f54d63"/>
<rect x="388.67" y="303.6" width="1.6" height="20.8" fill="#f54d63"/>
<rect x="391.02" y="287.9" width="1.6" height="36.5" fill="#f54d63"/>
<rect x="393.37" y="319.6" width="1.6" height="4.8" fill="#3ed6b0"/>
<rect x="395.72" y="313.6" width="1.6" height="10.8" fill="#3ed6b0"/>
<rect x="398.07" y="319.1" width="1.6" height="5.3" fill="#3ed6b0"/>
<rect x="400.42" y="312.1" width="1.6" height="12.3" fill="#f54d63"/>
<rect x="402.77" y="317.1" width="1.6" height="7.3" fill="#3ed6b0"/>
<rect x="405.12" y="317.5" width="1.6" height="6.9" fill="#f54d63"/>
<rect x="407.47" y="317.4" width="1.6" height="7.0" fill="#3ed6b0"/>
<rect x="409.82" y="319.4" width="1.6" height="5.0" fill="#3ed6b0"/>
<rect x="412.17" y="319.4" width="1.6" height="5.0" fill="#3ed6b0"/>
<rect x="414.52" y="316.3" width="1.6" height="8.1" fill="#3ed6b0"/>
<rect x="416.87" y="315.4" width="1.6" height="9.0" fill="#3ed6b0"/>
<rect x="419.22" y="317.3" width="1.6" height="7.1" fill="#f54d63"/>
<rect x="421.57" y="316.8" width="1.6" height="7.6" fill="#f54d63"/>
<rect x="423.92" y="319.5" width="1.6" height="4.9" fill="#3ed6b0"/>
<rect x="426.27" y="317.7" width="1.6" height="6.7" fill="#f54d63"/>
<rect x="428.62" y="315.3" width="1.6" height="9.1" fill="#3ed6b0"/>
<rect x="430.96" y="315.7" width="1.6" height="8.7" fill="#f54d63"/>
<rect x="433.31" y="315.6" width="1.6" height="8.8" fill="#3ed6b0"/>
<rect x="435.66" y="315.1" width="1.6" height="9.3" fill="#3ed6b0"/>
<rect x="438.01" y="318.4" width="1.6" height="6.0" fill="#3ed6b0"/>
<rect x="440.36" y="319.0" width="1.6" height="5.4" fill="#f54d63"/>
<rect x="442.71" y="318.8" width="1.6" height="5.6" fill="#f54d63"/>
<rect x="445.06" y="317.1" width="1.6" height="7.3" fill="#3ed6b0"/>
<rect x="447.41" y="316.4" width="1.6" height="8.0" fill="#3ed6b0"/>
<rect x="449.76" y="315.2" width="1.6" height="9.2" fill="#f54d63"/>
<rect x="452.11" y="316.2" width="1.6" height="8.2" fill="#3ed6b0"/>
<rect x="454.46" y="316.6" width="1.6" height="7.8" fill="#f54d63"/>
<rect x="456.81" y="316.0" width="1.6" height="8.4" fill="#f54d63"/>
<rect x="459.16" y="317.4" width="1.6" height="7.0" fill="#f54d63"/>
<rect x="461.51" y="317.0" width="1.6" height="7.4" fill="#3ed6b0"/>
<rect x="463.86" y="319.3" width="1.6" height="5.1" fill="#3ed6b0"/>
<rect x="466.21" y="315.9" width="1.6" height="8.5" fill="#3ed6b0"/>
<rect x="468.56" y="318.4" width="1.6" height="6.0" fill="#f54d63"/>
<rect x="470.91" y="318.6" width="1.6" height="5.8" fill="#3ed6b0"/>
<rect x="473.26" y="319.4" width="1.6" height="5.0" fill="#f54d63"/>
<rect x="475.61" y="320.4" width="1.6" height="4.0" fill="#f54d63"/>
<rect x="477.96" y="320.9" width="1.6" height="3.5" fill="#f54d63"/>
<rect x="480.31" y="320.5" width="1.6" height="3.9" fill="#f54d63"/>
<rect x="482.66" y="319.4" width="1.6" height="5.0" fill="#3ed6b0"/>
<rect x="485.01" y="319.2" width="1.6" height="5.2" fill="#3ed6b0"/>
<rect x="487.36" y="320.9" width="1.6" height="3.5" fill="#f54d63"/>
<rect x="489.71" y="321.0" width="1.6" height="3.4" fill="#f54d63"/>
<rect x="492.06" y="319.7" width="1.6" height="4.7" fill="#f54d63"/>
<rect x="494.41" y="319.5" width="1.6" height="4.9" fill="#3ed6b0"/>
<rect x="496.76" y="320.1" width="1.6" height="4.3" fill="#3ed6b0"/>
<rect x="499.11" y="320.6" width="1.6" height="3.8" fill="#3ed6b0"/>
<rect x="501.46" y="319.5" width="1.6" height="4.9" fill="#f54d63"/>
<rect x="503.81" y="321.2" width="1.6" height="3.2" fill="#f54d63"/>
<rect x="506.16" y="320.4" width="1.6" height="4.0" fill="#3ed6b0"/>
<rect x="508.51" y="319.9" width="1.6" height="4.5" fill="#3ed6b0"/>
<rect x="510.86" y="318.4" width="1.6" height="6.0" fill="#3ed6b0"/>
<rect x="513.21" y="319.4" width="1.6" height="5.0" fill="#f54d63"/>
<rect x="515.56" y="300.4" width="1.6" height="24.0" fill="#f54d63"/>
<rect x="517.91" y="304.4" width="1.6" height="20.0" fill="#3ed6b0"/>
<rect x="520.26" y="320.6" width="1.6" height="3.8" fill="#3ed6b0"/>
<rect x="522.61" y="283.6" width="1.6" height="40.8" fill="#f54d63"/>
<rect x="524.96" y="285.2" width="1.6" height="39.2" fill="#3ed6b0"/>
<rect x="527.31" y="281.2" width="1.6" height="43.2" fill="#f54d63"/>
<rect x="529.66" y="290.0" width="1.6" height="34.4" fill="#f54d63"/>
<rect x="532.01" y="281.2" width="1.6" height="43.2" fill="#f54d63"/>
<rect x="534.36" y="256.4" width="1.6" height="68.0" fill="#3ed6b0"/>
<rect x="536.71" y="286.0" width="1.6" height="38.4" fill="#f54d63"/>
<rect x="539.06" y="288.4" width="1.6" height="36.0" fill="#f54d63"/>
<rect x="541.41" y="301.2" width="1.6" height="23.2" fill="#3ed6b0"/>
<rect x="543.75" y="292.4" width="1.6" height="32.0" fill="#f54d63"/>
<rect x="546.10" y="290.0" width="1.6" height="34.4" fill="#3ed6b0"/>
<rect x="548.45" y="298.0" width="1.6" height="26.4" fill="#f54d63"/>
<rect x="550.80" y="299.6" width="1.6" height="24.8" fill="#f54d63"/>
<rect x="553.15" y="292.4" width="1.6" height="32.0" fill="#f54d63"/>
<rect x="555.50" y="292.4" width="1.6" height="32.0" fill="#f54d63"/>
<rect x="557.85" y="302.0" width="1.6" height="22.4" fill="#3ed6b0"/>
<rect x="560.20" y="302.8" width="1.6" height="21.6" fill="#3ed6b0"/>
<rect x="562.55" y="302.0" width="1.6" height="22.4" fill="#f54d63"/>
<rect x="564.90" y="305.2" width="1.6" height="19.2" fill="#3ed6b0"/>
<rect x="567.25" y="305.2" width="1.6" height="19.2" fill="#f54d63"/>
<rect x="569.60" y="307.6" width="1.6" height="16.8" fill="#f54d63"/>
<rect x="571.95" y="274.0" width="1.6" height="50.4" fill="#3ed6b0"/>
<rect x="574.30" y="290.0" width="1.6" height="34.4" fill="#f54d63"/>
<rect x="576.65" y="302.0" width="1.6" height="22.4" fill="#3ed6b0"/>
<rect x="579.00" y="306.8" width="1.6" height="17.6" fill="#3ed6b0"/>
<rect x="581.35" y="310.8" width="1.6" height="13.6" fill="#3ed6b0"/>
<rect x="583.70" y="310.8" width="1.6" height="13.6" fill="#f54d63"/>
<rect x="586.05" y="312.4" width="1.6" height="12.0" fill="#3ed6b0"/>
<rect x="588.40" y="313.2" width="1.6" height="11.2" fill="#f54d63"/>
<rect x="590.75" y="310.8" width="1.6" height="13.6" fill="#f54d63"/>
<rect x="593.10" y="314.0" width="1.6" height="10.4" fill="#f54d63"/>
<rect x="595.45" y="309.2" width="1.6" height="15.2" fill="#f54d63"/>
<rect x="597.80" y="314.8" width="1.6" height="9.6" fill="#3ed6b0"/>
<polyline points="77.0,318.8 90.0,318.6 105.0,317.6 125.0,315.2 145.0,315.0 160.0,314.6 175.0,314.3 195.0,316.5 212.0,318.4 222.0,315.7 230.0,313.4 241.4,312.6 265.0,313.8 290.0,314.8 315.0,316.4 340.0,316.4 358.0,315.7 376.0,315.0 383.0,313.8 389.0,311.0 395.7,309.0 402.0,310.5 410.0,311.6 430.0,313.7 452.9,315.7 481.4,317.9 500.0,318.5 513.0,318.8 520.0,315.0 527.0,309.0 534.0,302.0 541.8,296.4 557.8,296.0 566.0,297.0 572.2,298.0 585.0,302.0 598.6,306.0" fill="none" stroke="#f0d23a" stroke-width="2.0" stroke-linejoin="round" stroke-linecap="round" />
<circle cx="80.5" cy="319.2" r="5.3" fill="url(#glow)"/>
<circle cx="86.5" cy="318.8" r="5.3" fill="url(#glow)"/>
<circle cx="105" cy="317.6" r="5.3" fill="url(#glow)"/>
<circle cx="115.7" cy="318.6" r="5.3" fill="url(#glow)"/>
<circle cx="121.4" cy="316.7" r="5.3" fill="url(#glow)"/>
<circle cx="145" cy="315" r="5.3" fill="url(#glow)"/>
<circle cx="153.6" cy="315" r="5.3" fill="url(#glow)"/>
<circle cx="207.9" cy="318.1" r="5.3" fill="url(#glow)"/>
<circle cx="212" cy="318.1" r="5.3" fill="url(#glow)"/>
<circle cx="222.5" cy="315" r="5.3" fill="url(#glow)"/>
<circle cx="230" cy="313.6" r="5.3" fill="url(#glow)"/>
<circle cx="241.4" cy="312.1" r="5.3" fill="url(#glow)"/>
<circle cx="265" cy="314.6" r="5.3" fill="url(#glow)"/>
<circle cx="340.7" cy="316.4" r="5.3" fill="url(#glow)"/>
<circle cx="362.1" cy="315" r="5.3" fill="url(#glow)"/>
<circle cx="382" cy="314.3" r="5.3" fill="url(#glow)"/>
<circle cx="385" cy="313.6" r="5.3" fill="url(#glow)"/>
<circle cx="387.5" cy="312.3" r="5.3" fill="url(#glow)"/>
<circle cx="390.3" cy="311" r="5.3" fill="url(#glow)"/>
<circle cx="393" cy="309.8" r="5.3" fill="url(#glow)"/>
<circle cx="395.7" cy="308.6" r="5.3" fill="url(#glow)"/>
<circle cx="497.9" cy="318.6" r="5.3" fill="url(#glow)"/>
<circle cx="513.3" cy="318.8" r="5.3" fill="url(#glow)"/>
<circle cx="515.8" cy="316.5" r="5.3" fill="url(#glow)"/>
<circle cx="518.2" cy="314" r="5.3" fill="url(#glow)"/>
<circle cx="520.6" cy="311.5" r="5.3" fill="url(#glow)"/>
<circle cx="523" cy="308.5" r="5.3" fill="url(#glow)"/>
<circle cx="525.3" cy="305.5" r="5.3" fill="url(#glow)"/>
<circle cx="527.7" cy="302.5" r="5.3" fill="url(#glow)"/>
<circle cx="530.1" cy="300" r="5.3" fill="url(#glow)"/>
<circle cx="532.4" cy="298" r="5.3" fill="url(#glow)"/>
<circle cx="534.8" cy="297" r="5.3" fill="url(#glow)"/>
<circle cx="537.2" cy="296.5" r="5.3" fill="url(#glow)"/>
<circle cx="539.5" cy="296.4" r="5.3" fill="url(#glow)"/>
<circle cx="573" cy="296.4" r="5.3" fill="url(#glow)"/>
<rect x="113.99" y="386.4" width="1.1" height="2.0" fill="#f54d63"/>
<rect x="116.34" y="384.8" width="1.1" height="3.6" fill="#f54d63"/>
<rect x="118.69" y="384.3" width="1.1" height="4.1" fill="#f54d63"/>
<rect x="121.04" y="382.8" width="1.1" height="5.6" fill="#f54d63"/>
<rect x="123.39" y="381.9" width="1.1" height="6.5" fill="#f54d63"/>
<rect x="125.74" y="381.4" width="1.1" height="7.0" fill="#f54d63"/>
<rect x="128.09" y="383.5" width="1.1" height="4.9" fill="#f54d63"/>
<rect x="130.44" y="384.8" width="1.1" height="3.6" fill="#f54d63"/>
<rect x="132.79" y="386.4" width="1.1" height="2.0" fill="#f54d63"/>
<rect x="135.14" y="387.6" width="1.1" height="0.8" fill="#f54d63"/>
<rect x="137.49" y="388.1" width="1.1" height="0.3" fill="#f54d63"/>
<rect x="139.84" y="388.2" width="1.1" height="0.2" fill="#f54d63"/>
<rect x="142.19" y="388.4" width="1.1" height="0.0" fill="#3ed6b0"/>
<rect x="144.54" y="388.4" width="1.1" height="0.2" fill="#3ed6b0"/>
<rect x="146.89" y="388.4" width="1.1" height="0.4" fill="#3ed6b0"/>
<rect x="149.24" y="388.4" width="1.1" height="0.5" fill="#3ed6b0"/>
<rect x="151.59" y="387.6" width="1.1" height="0.8" fill="#f54d63"/>
<rect x="153.94" y="386.3" width="1.1" height="2.1" fill="#f54d63"/>
<rect x="156.29" y="385.7" width="1.1" height="2.7" fill="#f54d63"/>
<rect x="158.64" y="386.9" width="1.1" height="1.5" fill="#f54d63"/>
<rect x="160.99" y="387.7" width="1.1" height="0.7" fill="#f54d63"/>
<rect x="163.34" y="388.4" width="1.1" height="0.4" fill="#3ed6b0"/>
<rect x="165.69" y="388.4" width="1.1" height="1.4" fill="#3ed6b0"/>
<rect x="168.04" y="388.4" width="1.1" height="2.3" fill="#3ed6b0"/>
<rect x="170.39" y="388.4" width="1.1" height="3.1" fill="#3ed6b0"/>
<rect x="172.74" y="388.4" width="1.1" height="4.0" fill="#3ed6b0"/>
<rect x="175.09" y="388.4" width="1.1" height="5.4" fill="#3ed6b0"/>
<rect x="177.44" y="388.4" width="1.1" height="6.2" fill="#3ed6b0"/>
<rect x="179.79" y="388.4" width="1.1" height="8.1" fill="#3ed6b0"/>
<rect x="182.14" y="388.4" width="1.1" height="7.0" fill="#3ed6b0"/>
<rect x="184.49" y="388.4" width="1.1" height="8.7" fill="#3ed6b0"/>
<rect x="186.84" y="388.4" width="1.1" height="7.1" fill="#3ed6b0"/>
<rect x="189.19" y="388.4" width="1.1" height="6.7" fill="#3ed6b0"/>
<rect x="191.54" y="388.4" width="1.1" height="6.7" fill="#3ed6b0"/>
<rect x="193.89" y="388.4" width="1.1" height="5.8" fill="#3ed6b0"/>
<rect x="196.24" y="388.4" width="1.1" height="4.5" fill="#3ed6b0"/>
<rect x="198.59" y="388.4" width="1.1" height="3.3" fill="#3ed6b0"/>
<rect x="200.94" y="388.4" width="1.1" height="2.7" fill="#3ed6b0"/>
<rect x="203.29" y="388.4" width="1.1" height="1.5" fill="#3ed6b0"/>
<rect x="205.63" y="388.4" width="1.1" height="0.4" fill="#3ed6b0"/>
<rect x="207.98" y="387.7" width="1.1" height="0.7" fill="#f54d63"/>
<rect x="210.33" y="386.6" width="1.1" height="1.8" fill="#f54d63"/>
<rect x="212.68" y="385.1" width="1.1" height="3.3" fill="#f54d63"/>
<rect x="215.03" y="384.6" width="1.1" height="3.8" fill="#f54d63"/>
<rect x="217.38" y="382.6" width="1.1" height="5.8" fill="#f54d63"/>
<rect x="219.73" y="380.2" width="1.1" height="8.2" fill="#f54d63"/>
<rect x="222.08" y="378.7" width="1.1" height="9.7" fill="#f54d63"/>
<rect x="224.43" y="379.3" width="1.1" height="9.1" fill="#f54d63"/>
<rect x="226.78" y="378.3" width="1.1" height="10.1" fill="#f54d63"/>
<rect x="229.13" y="377.7" width="1.1" height="10.7" fill="#f54d63"/>
<rect x="231.48" y="376.4" width="1.1" height="12.0" fill="#f54d63"/>
<rect x="233.83" y="379.4" width="1.1" height="9.0" fill="#f54d63"/>
<rect x="236.18" y="379.6" width="1.1" height="8.8" fill="#f54d63"/>
<rect x="238.53" y="380.9" width="1.1" height="7.5" fill="#f54d63"/>
<rect x="240.88" y="383.4" width="1.1" height="5.0" fill="#f54d63"/>
<rect x="243.23" y="385.4" width="1.1" height="3.0" fill="#f54d63"/>
<rect x="245.58" y="387.4" width="1.1" height="1.0" fill="#f54d63"/>
<rect x="247.93" y="388.4" width="1.1" height="0.2" fill="#3ed6b0"/>
<rect x="250.28" y="388.4" width="1.1" height="1.2" fill="#3ed6b0"/>
<rect x="252.63" y="388.4" width="1.1" height="2.3" fill="#3ed6b0"/>
<rect x="254.98" y="388.4" width="1.1" height="2.9" fill="#3ed6b0"/>
<rect x="257.33" y="388.4" width="1.1" height="3.3" fill="#3ed6b0"/>
<rect x="259.68" y="388.4" width="1.1" height="3.5" fill="#3ed6b0"/>
<rect x="262.03" y="388.4" width="1.1" height="4.8" fill="#3ed6b0"/>
<rect x="264.38" y="388.4" width="1.1" height="5.4" fill="#3ed6b0"/>
<rect x="266.73" y="388.4" width="1.1" height="5.5" fill="#3ed6b0"/>
<rect x="269.08" y="388.4" width="1.1" height="6.4" fill="#3ed6b0"/>
<rect x="271.43" y="388.4" width="1.1" height="4.9" fill="#3ed6b0"/>
<rect x="273.78" y="388.4" width="1.1" height="5.0" fill="#3ed6b0"/>
<rect x="276.13" y="388.4" width="1.1" height="5.0" fill="#3ed6b0"/>
<rect x="278.48" y="388.4" width="1.1" height="5.3" fill="#3ed6b0"/>
<rect x="280.83" y="388.4" width="1.1" height="4.9" fill="#3ed6b0"/>
<rect x="283.18" y="388.4" width="1.1" height="4.0" fill="#3ed6b0"/>
<rect x="285.53" y="388.4" width="1.1" height="3.5" fill="#3ed6b0"/>
<rect x="287.88" y="388.4" width="1.1" height="3.4" fill="#3ed6b0"/>
<rect x="290.23" y="388.4" width="1.1" height="3.1" fill="#3ed6b0"/>
<rect x="292.58" y="388.4" width="1.1" height="3.6" fill="#3ed6b0"/>
<rect x="294.93" y="388.4" width="1.1" height="3.7" fill="#3ed6b0"/>
<rect x="297.28" y="388.4" width="1.1" height="5.1" fill="#3ed6b0"/>
<rect x="299.63" y="388.4" width="1.1" height="5.7" fill="#3ed6b0"/>
<rect x="301.98" y="388.4" width="1.1" height="5.9" fill="#3ed6b0"/>
<rect x="304.33" y="388.4" width="1.1" height="6.0" fill="#3ed6b0"/>
<rect x="306.68" y="388.4" width="1.1" height="5.9" fill="#3ed6b0"/>
<rect x="309.03" y="388.4" width="1.1" height="5.1" fill="#3ed6b0"/>
<rect x="311.38" y="388.4" width="1.1" height="4.5" fill="#3ed6b0"/>
<rect x="313.73" y="388.4" width="1.1" height="3.9" fill="#3ed6b0"/>
<rect x="316.08" y="388.4" width="1.1" height="3.0" fill="#3ed6b0"/>
<rect x="318.42" y="388.4" width="1.1" height="1.1" fill="#3ed6b0"/>
<rect x="320.77" y="388.3" width="1.1" height="0.1" fill="#f54d63"/>
<rect x="323.12" y="387.2" width="1.1" height="1.2" fill="#f54d63"/>
<rect x="325.47" y="387.0" width="1.1" height="1.4" fill="#f54d63"/>
<rect x="327.82" y="386.9" width="1.1" height="1.5" fill="#f54d63"/>
<rect x="330.17" y="386.7" width="1.1" height="1.7" fill="#f54d63"/>
<rect x="332.52" y="386.1" width="1.1" height="2.3" fill="#f54d63"/>
<rect x="334.87" y="386.0" width="1.1" height="2.4" fill="#f54d63"/>
<rect x="337.22" y="385.4" width="1.1" height="3.0" fill="#f54d63"/>
<rect x="339.57" y="385.2" width="1.1" height="3.2" fill="#f54d63"/>
<rect x="341.92" y="384.9" width="1.1" height="3.5" fill="#f54d63"/>
<rect x="344.27" y="385.3" width="1.1" height="3.1" fill="#f54d63"/>
<rect x="346.62" y="385.5" width="1.1" height="2.9" fill="#f54d63"/>
<rect x="348.97" y="385.6" width="1.1" height="2.8" fill="#f54d63"/>
<rect x="351.32" y="385.4" width="1.1" height="3.0" fill="#f54d63"/>
<rect x="353.67" y="385.3" width="1.1" height="3.1" fill="#f54d63"/>
<rect x="356.02" y="385.6" width="1.1" height="2.8" fill="#f54d63"/>
<rect x="358.37" y="385.9" width="1.1" height="2.5" fill="#f54d63"/>
<rect x="360.72" y="385.8" width="1.1" height="2.6" fill="#f54d63"/>
<rect x="363.07" y="385.8" width="1.1" height="2.6" fill="#f54d63"/>
<rect x="365.42" y="386.3" width="1.1" height="2.1" fill="#f54d63"/>
<rect x="367.77" y="387.9" width="1.1" height="0.5" fill="#f54d63"/>
<rect x="370.12" y="388.4" width="1.1" height="2.8" fill="#3ed6b0"/>
<rect x="372.47" y="388.4" width="1.1" height="4.9" fill="#3ed6b0"/>
<rect x="374.82" y="388.4" width="1.1" height="5.7" fill="#3ed6b0"/>
<rect x="377.17" y="388.4" width="1.1" height="6.2" fill="#3ed6b0"/>
<rect x="379.52" y="388.4" width="1.1" height="4.8" fill="#3ed6b0"/>
<rect x="381.87" y="388.4" width="1.1" height="3.1" fill="#3ed6b0"/>
<rect x="384.22" y="388.4" width="1.1" height="0.2" fill="#3ed6b0"/>
<rect x="386.57" y="386.2" width="1.1" height="2.2" fill="#f54d63"/>
<rect x="388.92" y="384.4" width="1.1" height="4.0" fill="#f54d63"/>
<rect x="391.27" y="382.2" width="1.1" height="6.2" fill="#f54d63"/>
<rect x="393.62" y="382.3" width="1.1" height="6.1" fill="#f54d63"/>
<rect x="395.97" y="382.9" width="1.1" height="5.5" fill="#f54d63"/>
<rect x="398.32" y="382.2" width="1.1" height="6.2" fill="#f54d63"/>
<rect x="400.67" y="383.1" width="1.1" height="5.3" fill="#f54d63"/>
<rect x="403.02" y="384.2" width="1.1" height="4.2" fill="#f54d63"/>
<rect x="405.37" y="385.8" width="1.1" height="2.6" fill="#f54d63"/>
<rect x="407.72" y="387.6" width="1.1" height="0.8" fill="#f54d63"/>
<rect x="410.07" y="388.4" width="1.1" height="1.3" fill="#3ed6b0"/>
<rect x="412.42" y="388.4" width="1.1" height="2.5" fill="#3ed6b0"/>
<rect x="414.77" y="388.4" width="1.1" height="4.4" fill="#3ed6b0"/>
<rect x="417.12" y="388.4" width="1.1" height="5.5" fill="#3ed6b0"/>
<rect x="419.47" y="388.4" width="1.1" height="7.2" fill="#3ed6b0"/>
<rect x="421.82" y="388.4" width="1.1" height="5.6" fill="#3ed6b0"/>
<rect x="424.17" y="388.4" width="1.1" height="5.9" fill="#3ed6b0"/>
<rect x="426.52" y="388.4" width="1.1" height="6.1" fill="#3ed6b0"/>
<rect x="428.87" y="388.4" width="1.1" height="5.6" fill="#3ed6b0"/>
<rect x="431.21" y="388.4" width="1.1" height="5.1" fill="#3ed6b0"/>
<rect x="433.56" y="388.4" width="1.1" height="3.6" fill="#3ed6b0"/>
<rect x="435.91" y="388.4" width="1.1" height="3.5" fill="#3ed6b0"/>
<rect x="438.26" y="388.4" width="1.1" height="3.0" fill="#3ed6b0"/>
<rect x="440.61" y="388.4" width="1.1" height="2.8" fill="#3ed6b0"/>
<rect x="442.96" y="388.4" width="1.1" height="3.0" fill="#3ed6b0"/>
<rect x="445.31" y="388.4" width="1.1" height="2.3" fill="#3ed6b0"/>
<rect x="447.66" y="388.4" width="1.1" height="2.0" fill="#3ed6b0"/>
<rect x="450.01" y="388.4" width="1.1" height="1.2" fill="#3ed6b0"/>
<rect x="452.36" y="388.4" width="1.1" height="0.4" fill="#3ed6b0"/>
<rect x="454.71" y="387.3" width="1.1" height="1.1" fill="#f54d63"/>
<rect x="457.06" y="386.5" width="1.1" height="1.9" fill="#f54d63"/>
<rect x="459.41" y="386.0" width="1.1" height="2.4" fill="#f54d63"/>
<rect x="461.76" y="387.0" width="1.1" height="1.4" fill="#f54d63"/>
<rect x="464.11" y="388.4" width="1.1" height="0.1" fill="#3ed6b0"/>
<rect x="466.46" y="388.4" width="1.1" height="1.2" fill="#3ed6b0"/>
<rect x="468.81" y="388.4" width="1.1" height="1.7" fill="#3ed6b0"/>
<rect x="471.16" y="388.4" width="1.1" height="2.0" fill="#3ed6b0"/>
<rect x="473.51" y="388.4" width="1.1" height="1.7" fill="#3ed6b0"/>
<rect x="475.86" y="388.4" width="1.1" height="1.2" fill="#3ed6b0"/>
<rect x="478.21" y="388.4" width="1.1" height="0.2" fill="#3ed6b0"/>
<rect x="480.56" y="387.3" width="1.1" height="1.1" fill="#f54d63"/>
<rect x="482.91" y="386.7" width="1.1" height="1.7" fill="#f54d63"/>
<rect x="485.26" y="386.2" width="1.1" height="2.2" fill="#f54d63"/>
<rect x="487.61" y="386.2" width="1.1" height="2.2" fill="#f54d63"/>
<rect x="489.96" y="386.4" width="1.1" height="2.0" fill="#f54d63"/>
<rect x="492.31" y="386.2" width="1.1" height="2.2" fill="#f54d63"/>
<rect x="494.66" y="385.9" width="1.1" height="2.5" fill="#f54d63"/>
<rect x="497.01" y="386.2" width="1.1" height="2.2" fill="#f54d63"/>
<rect x="499.36" y="386.0" width="1.1" height="2.4" fill="#f54d63"/>
<rect x="501.71" y="386.0" width="1.1" height="2.4" fill="#f54d63"/>
<rect x="504.06" y="385.6" width="1.1" height="2.8" fill="#f54d63"/>
<rect x="506.41" y="385.7" width="1.1" height="2.7" fill="#f54d63"/>
<rect x="508.76" y="386.1" width="1.1" height="2.3" fill="#f54d63"/>
<rect x="511.11" y="386.0" width="1.1" height="2.4" fill="#f54d63"/>
<rect x="513.46" y="385.5" width="1.1" height="2.9" fill="#f54d63"/>
<rect x="515.81" y="384.6" width="1.1" height="3.8" fill="#f54d63"/>
<rect x="518.16" y="382.4" width="1.1" height="6.0" fill="#f54d63"/>
<rect x="520.51" y="381.3" width="1.1" height="7.1" fill="#f54d63"/>
<rect x="522.86" y="379.1" width="1.1" height="9.3" fill="#f54d63"/>
<rect x="525.21" y="375.3" width="1.1" height="13.1" fill="#f54d63"/>
<rect x="527.56" y="374.0" width="1.1" height="14.4" fill="#f54d63"/>
<rect x="529.91" y="372.8" width="1.1" height="15.6" fill="#f54d63"/>
<rect x="532.26" y="370.9" width="1.1" height="17.5" fill="#f54d63"/>
<rect x="534.61" y="367.1" width="1.1" height="21.3" fill="#f54d63"/>
<rect x="536.96" y="371.1" width="1.1" height="17.3" fill="#f54d63"/>
<rect x="539.31" y="371.7" width="1.1" height="16.7" fill="#f54d63"/>
<rect x="541.66" y="375.0" width="1.1" height="13.4" fill="#f54d63"/>
<rect x="544.00" y="377.9" width="1.1" height="10.5" fill="#f54d63"/>
<rect x="546.35" y="380.3" width="1.1" height="8.1" fill="#f54d63"/>
<rect x="548.70" y="383.9" width="1.1" height="4.5" fill="#f54d63"/>
<rect x="551.05" y="387.6" width="1.1" height="0.8" fill="#f54d63"/>
<rect x="553.40" y="388.4" width="1.1" height="1.8" fill="#3ed6b0"/>
<rect x="555.75" y="388.4" width="1.1" height="4.4" fill="#3ed6b0"/>
<rect x="558.10" y="388.4" width="1.1" height="5.9" fill="#3ed6b0"/>
<rect x="560.45" y="388.4" width="1.1" height="7.2" fill="#3ed6b0"/>
<rect x="562.80" y="388.4" width="1.1" height="11.0" fill="#3ed6b0"/>
<rect x="565.15" y="388.4" width="1.1" height="11.1" fill="#3ed6b0"/>
<rect x="567.50" y="388.4" width="1.1" height="13.7" fill="#3ed6b0"/>
<rect x="569.85" y="388.4" width="1.1" height="12.4" fill="#3ed6b0"/>
<rect x="572.20" y="388.4" width="1.1" height="12.8" fill="#3ed6b0"/>
<rect x="574.55" y="388.4" width="1.1" height="10.6" fill="#3ed6b0"/>
<rect x="576.90" y="388.4" width="1.1" height="10.2" fill="#3ed6b0"/>
<rect x="579.25" y="388.4" width="1.1" height="10.2" fill="#3ed6b0"/>
<rect x="581.60" y="388.4" width="1.1" height="12.5" fill="#3ed6b0"/>
<rect x="583.95" y="388.4" width="1.1" height="13.6" fill="#3ed6b0"/>
<rect x="586.30" y="388.4" width="1.1" height="14.0" fill="#3ed6b0"/>
<rect x="588.65" y="388.4" width="1.1" height="10.7" fill="#3ed6b0"/>
<rect x="591.00" y="388.4" width="1.1" height="10.8" fill="#3ed6b0"/>
<rect x="593.35" y="388.4" width="1.1" height="8.4" fill="#3ed6b0"/>
<rect x="595.70" y="388.4" width="1.1" height="6.5" fill="#3ed6b0"/>
<rect x="598.05" y="388.4" width="1.1" height="3.8" fill="#3ed6b0"/>
<polyline points="114.5,383.7 116.9,380.9 119.2,378.0 121.6,375.2 123.9,372.4 126.3,369.6 128.6,369.3 131.0,370.5 133.3,371.6 135.7,372.8 138.0,374.0 140.4,375.1 142.7,376.3 145.1,375.8 147.4,375.1 149.8,374.5 152.1,373.8 154.5,373.1 156.8,372.4 159.2,371.7 161.5,371.9 163.9,372.6 166.2,373.3 168.6,374.3 170.9,375.5 173.3,376.6 175.6,379.1 178.0,382.7 180.3,386.0 182.7,387.9 185.0,389.9 187.4,391.9 189.7,393.3 192.1,394.1 194.4,394.9 196.8,395.8 199.1,396.1 201.5,394.9 203.8,393.6 206.2,392.5 208.5,391.5 210.9,390.5 213.2,389.5 215.6,388.6 217.9,387.6 220.3,385.5 222.6,381.7 225.0,378.0 227.3,374.2 229.7,370.5 232.0,366.8 234.4,363.8 236.7,362.4 239.1,361.0 241.4,360.4 243.8,361.6 246.1,362.8 248.5,364.3 250.8,365.8 253.2,367.4 255.5,368.9 257.9,370.3 260.2,371.8 262.6,373.4 264.9,375.7 267.3,378.0 269.6,380.0 272.0,380.0 274.3,380.0 276.7,380.1 279.0,380.8 281.4,381.5 283.7,382.1 286.1,382.4 288.4,382.6 290.8,382.9 293.1,383.8 295.5,384.8 297.8,385.7 300.2,386.9 302.5,388.2 304.9,389.4 307.2,390.6 309.6,391.9 311.9,393.1 314.3,394.3 316.6,394.5 319.0,394.8 321.3,395.0 323.7,394.3 326.0,393.7 328.4,393.0 330.7,392.4 333.1,391.8 335.4,391.2 337.8,390.6 340.1,390.0 342.5,389.4 344.8,388.9 347.2,388.4 349.5,387.9 351.9,387.5 354.2,387.0 356.6,386.5 358.9,385.5 361.3,384.4 363.6,383.2 366.0,382.9 368.3,382.9 370.7,385.0 373.0,387.3 375.4,389.3 377.7,390.7 380.1,392.1 382.4,391.2 384.8,390.3 387.1,388.6 389.5,386.3 391.8,384.0 394.2,382.4 396.5,381.4 398.9,380.5 401.2,380.3 403.6,380.8 405.9,381.3 408.3,381.9 410.6,383.0 413.0,384.7 415.3,386.3 417.7,387.9 420.0,389.3 422.4,390.7 424.7,392.0 427.1,393.2 429.4,394.3 431.8,395.3 434.1,396.0 436.5,396.7 438.8,397.2 441.2,397.5 443.5,397.7 445.9,397.7 448.2,397.2 450.6,396.7 452.9,396.2 455.3,395.8 457.6,395.3 460.0,395.1 462.3,395.3 464.7,395.5 467.0,395.9 469.4,396.6 471.7,397.3 474.1,397.8 476.4,397.3 478.8,396.8 481.1,396.2 483.5,395.3 485.8,394.4 488.2,393.5 490.5,392.8 492.9,392.1 495.2,391.3 497.6,390.7 499.9,390.2 502.3,389.6 504.6,389.0 507.0,388.4 509.3,387.5 511.7,386.5 514.0,385.6 516.4,383.3 518.7,377.7 521.1,372.1 523.4,366.4 525.8,360.8 528.1,355.2 530.5,349.6 532.8,343.9 535.2,340.6 537.5,337.3 539.9,334.2 542.2,333.5 544.6,332.7 546.9,335.0 549.3,337.7 551.6,340.2 554.0,342.6 556.3,344.9 558.7,347.3 561.0,352.0 563.4,356.7 565.7,361.3 568.1,365.5 570.4,368.6 572.8,371.2 575.1,371.2 577.5,373.7 579.8,377.3 582.2,380.8 584.5,384.3 586.9,387.8 589.2,391.3 591.6,392.5 593.9,393.4 596.3,394.3 598.6,392.6" fill="none" stroke="#1d7f8e" stroke-width="1.1" stroke-linejoin="round" stroke-linecap="round" />
<polyline points="114.5,384.3 116.9,383.2 119.2,382.2 121.6,381.2 123.9,380.2 126.3,378.4 128.6,376.5 131.0,374.6 133.3,374.4 135.7,374.5 138.0,374.6 140.4,374.7 142.7,374.9 145.1,375.0 147.4,374.7 149.8,374.4 152.1,374.1 154.5,373.7 156.8,373.4 159.2,373.0 161.5,372.9 163.9,372.9 166.2,372.9 168.6,373.6 170.9,374.8 173.3,375.9 175.6,377.3 178.0,379.0 180.3,380.7 182.7,382.5 185.0,384.4 187.4,386.4 189.7,388.4 192.1,389.6 194.4,390.8 196.8,392.0 199.1,393.0 201.5,393.5 203.8,394.0 206.2,393.9 208.5,393.2 210.9,392.5 213.2,391.8 215.6,391.1 217.9,390.4 220.3,389.4 222.6,388.0 225.0,386.6 227.3,384.3 229.7,380.8 232.0,377.3 234.4,374.2 236.7,371.9 239.1,369.5 241.4,367.6 243.8,366.7 246.1,365.7 248.5,365.2 250.8,365.9 253.2,366.6 255.5,367.3 257.9,368.3 260.2,369.2 262.6,370.3 264.9,371.7 267.3,373.1 269.6,374.4 272.0,375.4 274.3,376.3 276.7,377.2 279.0,377.9 281.4,378.6 283.7,379.3 286.1,380.0 288.4,380.7 290.8,381.4 293.1,382.1 295.5,382.9 297.8,383.6 300.2,384.6 302.5,385.7 304.9,386.7 307.2,388.1 309.6,389.4 311.9,390.7 314.3,392.1 316.6,392.8 319.0,393.5 321.3,394.3 323.7,394.2 326.0,394.1 328.4,394.0 330.7,393.8 333.1,393.7 335.4,393.6 337.8,393.1 340.1,392.5 342.5,391.9 344.8,391.3 347.2,390.7 349.5,390.1 351.9,389.4 354.2,388.7 356.6,388.0 358.9,387.3 361.3,386.6 363.6,385.9 366.0,385.3 368.3,384.7 370.7,384.6 373.0,385.8 375.4,387.0 377.7,388.2 380.1,389.3 382.4,390.5 384.8,390.3 387.1,389.9 389.5,389.4 391.8,388.1 394.2,386.5 396.5,385.2 398.9,383.8 401.2,382.5 403.6,382.1 405.9,382.1 408.3,382.1 410.6,382.6 413.0,383.6 415.3,384.6 417.7,385.8 420.0,387.2 422.4,388.6 424.7,389.9 427.1,391.1 429.4,392.2 431.8,393.2 434.1,393.9 436.5,394.6 438.8,395.1 441.2,395.3 443.5,395.6 445.9,395.8 448.2,396.0 450.6,396.2 452.9,396.2 455.3,395.8 457.6,395.3 460.0,395.0 462.3,395.0 464.7,395.0 467.0,395.1 469.4,395.6 471.7,396.0 474.1,396.4 476.4,396.7 478.8,396.9 481.1,397.0 483.5,396.6 485.8,396.1 488.2,395.6 490.5,395.1 492.9,394.5 495.2,393.9 497.6,393.3 499.9,392.8 502.3,392.2 504.6,391.6 507.0,391.0 509.3,390.0 511.7,389.0 514.0,388.0 516.4,387.0 518.7,385.6 521.1,383.9 523.4,382.2 525.8,378.9 528.1,374.6 530.5,370.4 532.8,366.2 535.2,361.5 537.5,356.8 539.9,352.2 542.2,348.3 544.6,346.2 546.9,344.1 549.3,342.9 551.6,342.9 554.0,342.9 556.3,343.6 558.7,345.1 561.0,346.6 563.4,348.8 565.7,351.6 568.1,354.4 570.4,357.2 572.8,360.4 575.1,363.7 577.5,367.0 579.8,370.2 582.2,373.0 584.5,375.8 586.9,378.6 589.2,381.1 591.6,383.5 593.9,385.9 596.3,388.2 598.6,389.4" fill="none" stroke="#b3a84a" stroke-width="1.1" stroke-linejoin="round" stroke-linecap="round" />
<polyline points="51.6,451.2 55.4,454.3 60.0,443.5 67.0,432.7 77.0,449.7 90.8,460.5 98.6,452.0 106.3,455.8 115.5,462.8 123.2,442.0 129.4,431.2 135.5,424.0 139.6,422.7 145.8,429.7 152.0,437.4 156.6,431.2 162.7,428.9 167.4,438.1 173.5,445.8 181.2,451.2 188.9,443.5 198.2,433.5 204.3,442.0 212.0,450.5 218.2,445.8 225.9,428.1 232.1,418.9 239.2,418.9 245.4,435.8 250.0,451.2 257.7,466.6 267.0,474.3 273.1,460.5 279.3,446.6 285.5,438.1 290.9,434.3 296.3,448.1 304.0,458.2 311.7,457.4 319.4,451.2 325.0,445.1 332.7,438.1 338.9,443.5 345.0,437.4 352.7,433.5 357.4,434.3 363.5,429.7 371.2,433.5 377.4,436.6 383.6,430.4 392.8,420.4 400.5,417.3 406.7,417.3 409.7,426.6 414.4,445.1 420.5,458.9 426.2,465.9 433.9,470.5 440.0,465.1 446.2,453.5 453.1,457.4 461.6,453.5 469.3,458.9 477.0,460.5 484.7,462.8 490.9,455.8 495.5,448.1 501.7,437.4 509.4,428.1 515.5,423.5 522.3,418.1 530.0,415.0 545.0,413.5 556.2,414.0 560.8,431.2 563.9,435.8 568.6,448.9 573.2,434.3 577.8,440.4 582.4,455.8 588.6,466.6 597.8,475.1" fill="none" stroke="#1a8e96" stroke-width="1.2" stroke-linejoin="round" stroke-linecap="round" />
<polyline points="50.8,458.2 58.5,445.1 67.0,431.2 75.4,432.7 81.6,430.4 90.8,428.9 96.2,436.6 101.6,438.9 109.3,443.5 117.0,447.4 123.2,442.7 132.4,450.5 135.0,450.5 141.2,446.6 147.3,445.1 152.0,447.4 161.2,438.9 165.8,441.2 175.1,443.5 182.0,449.7 190.5,438.1 198.2,432.7 204.3,435.0 215.1,431.2 227.4,420.4 233.6,416.6 240.8,419.6 245.4,426.6 254.7,435.8 260.8,446.6 267.0,455.8 270.0,452.8 276.2,454.3 280.8,455.1 287.0,450.5 291.6,448.9 297.8,451.2 305.5,456.6 313.2,457.4 319.4,454.3 325.0,448.1 331.2,445.8 337.3,449.7 343.5,458.9 349.7,465.1 355.8,459.7 362.0,455.8 368.1,448.1 374.3,444.3 380.5,437.4 386.6,432.0 392.8,427.3 400.5,425.8 406.7,422.7 411.3,425.0 417.4,429.7 420.0,430.4 427.7,434.3 435.4,437.4 441.6,438.1 445.4,436.6 450.8,439.7 457.0,440.4 463.1,444.3 469.3,448.9 477.0,452.8 484.7,458.9 490.9,455.1 497.0,456.6 503.2,460.5 509.4,466.6 514.6,469.7 519.2,465.1 522.3,463.6 525.4,446.6 530.0,432.7 536.2,422.0 540.8,418.1 550.0,415.0 570.0,414.0 600.0,413.5" fill="none" stroke="#c64bb4" stroke-width="1.3" stroke-linejoin="round" stroke-linecap="round" />
<polyline points="51.6,435.8 53.9,437.4 57.0,446.6 63.1,442.7 68.5,440.4 72.4,446.6 79.3,458.2 86.2,455.1 98.6,452.0 104.7,455.8 114.0,464.3 117.0,462.0 121.7,448.1 127.8,439.7 132.4,442.7 135.0,438.9 142.7,432.7 150.4,427.3 158.1,423.5 163.5,422.7 165.8,425.8 168.1,432.0 172.0,434.3 174.3,437.4 181.2,434.3 187.4,432.0 192.8,437.4 198.2,432.7 202.8,445.1 210.5,454.3 216.7,446.6 221.3,438.9 225.9,426.6 230.0,420.4 234.6,422.7 239.2,422.7 245.4,435.8 253.1,442.0 260.8,451.2 268.5,463.6 276.2,471.3 283.9,474.3 288.6,472.8 294.7,469.7 302.4,465.1 308.6,457.4 314.7,450.5 322.4,452.8 325.0,451.2 331.2,446.6 337.3,448.9 343.5,442.0 351.2,437.4 357.4,435.8 363.5,432.7 371.2,432.7 378.9,428.1 386.6,423.5 394.3,418.9 406.7,416.6 411.3,423.5 417.4,430.4 420.0,429.7 426.2,437.4 432.3,449.7 438.5,463.6 444.7,468.2 450.8,472.0 455.4,472.8 460.1,466.6 465.5,460.5 470.8,463.6 477.0,468.2 483.2,467.4 489.3,464.3 494.0,462.0 500.1,456.6 504.7,456.6 510.9,448.1 515.5,437.4 519.4,428.9 522.3,423.5 526.9,418.1 532.0,415.5 540.0,414.0 560.0,413.5 576.3,414.0 577.8,420.4 580.9,431.2 584.0,445.1 588.6,455.8 593.2,465.1 598.6,472.0" fill="none" stroke="#e6cc3a" stroke-width="1.4" stroke-linejoin="round" stroke-linecap="round" />
<polyline points="229.5,418.5 232.0,416.8 235.0,416.5 238.0,417.5 240.8,419.2" fill="none" stroke="#ff1a1a" stroke-width="3.2" stroke-linejoin="round" stroke-linecap="round" />
<polyline points="394.3,418.6 398.0,417.3 402.0,416.4 406.0,416.2 408.0,417.5" fill="none" stroke="#ff1a1a" stroke-width="3.2" stroke-linejoin="round" stroke-linecap="round" />
<polyline points="522.3,418.1 526.9,416.8 532.0,415.0 540.0,414.0 560.0,413.5 576.3,413.8 577.5,415.5" fill="none" stroke="#ff1a1a" stroke-width="3.6" stroke-linejoin="round" stroke-linecap="round" />
<polyline points="536.2,419.0 540.8,416.5 550.0,414.5 570.0,413.8 600.0,413.5" fill="none" stroke="#ff1a1a" stroke-width="3.2" stroke-linejoin="round" stroke-linecap="round" />
<line x1="0" y1="253.5" x2="636.5" y2="253.5" stroke="#4d6280" stroke-width="1"/>
<line x1="0" y1="329.5" x2="636.5" y2="329.5" stroke="#4d6280" stroke-width="1"/>
<line x1="0" y1="405.5" x2="636.5" y2="405.5" stroke="#4d6280" stroke-width="1"/>
<line x1="0" y1="482.5" x2="636.5" y2="482.5" stroke="#4d6280" stroke-width="1"/>
<line x1="636.5" y1="109.4" x2="636.5" y2="483" stroke="#4d6280" stroke-width="1"/>
<text x="640.2" y="149.8" font-size="11.6" fill="#aab7cc" font-family='"Liberation Serif",serif' font-weight="normal" text-anchor="start" >1000</text>
<text x="640.2" y="191.8" font-size="11.6" fill="#aab7cc" font-family='"Liberation Serif",serif' font-weight="normal" text-anchor="start" >900</text>
<text x="640.2" y="232.8" font-size="11.6" fill="#aab7cc" font-family='"Liberation Serif",serif' font-weight="normal" text-anchor="start" >800</text>
<text x="640.0" y="269.8" font-size="11.6" fill="#aab7cc" font-family='"Liberation Serif",serif' font-weight="normal" text-anchor="start" >150M</text>
<text x="640.0" y="288.8" font-size="11.6" fill="#aab7cc" font-family='"Liberation Serif",serif' font-weight="normal" text-anchor="start" >100M</text>
<text x="640.0" y="308.8" font-size="11.6" fill="#aab7cc" font-family='"Liberation Serif",serif' font-weight="normal" text-anchor="start" >50M</text>
<text x="640.0" y="327.8" font-size="11.6" fill="#aab7cc" font-family='"Liberation Serif",serif' font-weight="normal" text-anchor="start" >0</text>
<text x="640.0" y="345.8" font-size="11.6" fill="#aab7cc" font-family='"Liberation Serif",serif' font-weight="normal" text-anchor="start" >40</text>
<text x="640.0" y="368.8" font-size="11.6" fill="#aab7cc" font-family='"Liberation Serif",serif' font-weight="normal" text-anchor="start" >20</text>
<text x="640.0" y="391.8" font-size="11.6" fill="#aab7cc" font-family='"Liberation Serif",serif' font-weight="normal" text-anchor="start" >0</text>
<text x="640.0" y="415.8" font-size="11.6" fill="#aab7cc" font-family='"Liberation Serif",serif' font-weight="normal" text-anchor="start" >100</text>
<text x="640.0" y="448.8" font-size="11.6" fill="#aab7cc" font-family='"Liberation Serif",serif' font-weight="normal" text-anchor="start" >50</text>
<text x="640.0" y="480.8" font-size="11.6" fill="#aab7cc" font-family='"Liberation Serif",serif' font-weight="normal" text-anchor="start" >0</text>
<text x="0" y="0" font-size="10" fill="#aab7cc" font-family='"Liberation Sans","Noto Sans CJK SC",sans-serif' text-anchor="middle" transform="translate(685.6,176.8) rotate(-90)">股价</text>
<text x="0" y="0" font-size="10" fill="#aab7cc" font-family='"Liberation Sans","Noto Sans CJK SC",sans-serif' text-anchor="middle" transform="translate(690.5,291) rotate(-90)">成交量</text>
<text x="0" y="0" font-size="10" fill="#aab7cc" font-family='"Liberation Serif",serif' text-anchor="middle" transform="translate(673.5,367.5) rotate(-90)">close-macd</text>
<text x="0" y="0" font-size="10" fill="#aab7cc" font-family='"Liberation Serif",serif' text-anchor="middle" transform="translate(679,444.3) rotate(-90)">RPS</text>
<text x="97.7" y="497.0" font-size="12.3" fill="#aab7cc" font-family='"Liberation Serif",serif' font-weight="normal" text-anchor="middle" >2022-11-01</text>
<text x="201.1" y="497.0" font-size="12.3" fill="#aab7cc" font-family='"Liberation Serif",serif' font-weight="normal" text-anchor="middle" >2023-01-03</text>
<text x="285.9" y="497.0" font-size="12.3" fill="#aab7cc" font-family='"Liberation Serif",serif' font-weight="normal" text-anchor="middle" >2023-03-01</text>
<text x="384.5" y="497.0" font-size="12.3" fill="#aab7cc" font-family='"Liberation Serif",serif' font-weight="normal" text-anchor="middle" >2023-05-03</text>
<text x="478.7" y="497.0" font-size="12.3" fill="#aab7cc" font-family='"Liberation Serif",serif' font-weight="normal" text-anchor="middle" >2023-07-02</text>
<text x="582.6" y="497.0" font-size="12.3" fill="#aab7cc" font-family='"Liberation Serif",serif' font-weight="normal" text-anchor="middle" >2023-09-01</text>
<rect x="79" y="44" width="621" height="65.4" fill="#20344d"/>
<line x1="82.6" y1="57.0" x2="89.6" y2="57.0" stroke="#f54d63" stroke-width="1"/>
<line x1="105.6" y1="57.0" x2="112.19999999999999" y2="57.0" stroke="#3ed6b0" stroke-width="1"/>
<path d="M89.1,50.9 h17 v13 h-17 Z" fill="#3ed6b0"/>
<path d="M89.1,50.9 h17 L89.1,63.9 Z" fill="#f54d63"/>
<line x1="191.6" y1="57.0" x2="221.2" y2="57.0" stroke="#1a5a66" stroke-width="1.0"/>
<text x="226.3" y="62.1" font-size="12" fill="#aab7cc" font-family='"Liberation Serif",serif' font-weight="normal" text-anchor="start" >ma05</text>
<line x1="300.2" y1="57.0" x2="329.8" y2="57.0" stroke="#8c8a44" stroke-width="1.0"/>
<text x="334.9" y="62.1" font-size="12" fill="#aab7cc" font-family='"Liberation Serif",serif' font-weight="normal" text-anchor="start" >ma10</text>
<line x1="408.7" y1="57.0" x2="438.3" y2="57.0" stroke="#8a3f84" stroke-width="1.0"/>
<text x="443.4" y="62.1" font-size="12" fill="#aab7cc" font-family='"Liberation Serif",serif' font-weight="normal" text-anchor="start" >ma20</text>
<line x1="517.0" y1="57.0" x2="546.6" y2="57.0" stroke="#23805e" stroke-width="1.0"/>
<text x="551.7" y="62.1" font-size="12" fill="#aab7cc" font-family='"Liberation Serif",serif' font-weight="normal" text-anchor="start" >ma50</text>
<line x1="626.0" y1="57.0" x2="655.6" y2="57.0" stroke="#2f65a0" stroke-width="1.0"/>
<text x="660.7" y="62.1" font-size="12" fill="#aab7cc" font-family='"Liberation Serif",serif' font-weight="normal" text-anchor="start" >ma120</text>
<line x1="82.6" y1="76.2" x2="112.19999999999999" y2="76.2" stroke="#8a7e78" stroke-width="1.2"/>
<text x="117.3" y="81.3" font-size="12" fill="#aab7cc" font-family='"Liberation Serif",serif' font-weight="normal" text-anchor="start" >ma250</text>
<line x1="191.6" y1="76.2" x2="221.2" y2="76.2" stroke="#f2d43a" stroke-width="2.4"/>
<circle cx="206.4" cy="76.2" r="1.1" fill="#f2d43a" stroke="#fff6b0" stroke-width="0.4"/>
<text x="226.3" y="81.3" font-size="12" fill="#aab7cc" font-family='"Liberation Serif",serif' font-weight="normal" text-anchor="start" >volume_ema</text>
<line x1="300.2" y1="76.2" x2="329.8" y2="76.2" stroke="#1c5f6c" stroke-width="1.0"/>
<text x="334.9" y="81.3" font-size="12" fill="#aab7cc" font-family='"Liberation Serif",serif' font-weight="normal" text-anchor="start" >DIF</text>
<line x1="408.7" y1="76.2" x2="438.3" y2="76.2" stroke="#8a8a48" stroke-width="1.0"/>
<text x="443.4" y="81.3" font-size="12" fill="#aab7cc" font-family='"Liberation Serif",serif' font-weight="normal" text-anchor="start" >DEA</text>
<path d="M532.50,64.70 Q534.40,75.92 542.00,81.70 Q532.50,78.30 523.00,81.70 Q530.60,75.92 532.50,64.70 Z" fill="#ffa500"/>
<text x="552.3" y="81.3" font-size="12" fill="#aab7cc" font-family='"Liberation Serif",serif' font-weight="normal" text-anchor="start" >buy</text>
<line x1="626.0" y1="76.2" x2="655.6" y2="76.2" stroke="#167880" stroke-width="1.0"/>
<text x="660.7" y="81.3" font-size="12" fill="#aab7cc" font-family='"Liberation Serif",serif' font-weight="normal" text-anchor="start" >rps10</text>
<line x1="82.6" y1="95.0" x2="112.19999999999999" y2="95.0" stroke="#d6be34" stroke-width="1.5"/>
<circle cx="97.39999999999999" cy="95.0" r="1.1" fill="#d6be34" stroke="#fff6b0" stroke-width="0.4"/>
<text x="117.3" y="100.1" font-size="12" fill="#aab7cc" font-family='"Liberation Serif",serif' font-weight="normal" text-anchor="start" >rps20</text>
<line x1="191.6" y1="95.0" x2="221.2" y2="95.0" stroke="#b0469e" stroke-width="1.2"/>
<circle cx="206.4" cy="95.0" r="1.1" fill="#b0469e" stroke="#fff6b0" stroke-width="0.4"/>
<text x="226.3" y="100.1" font-size="12" fill="#aab7cc" font-family='"Liberation Serif",serif' font-weight="normal" text-anchor="start" >rps50</text>
<text x="78.5" y="29.9" font-size="13" fill="#ffffff"><tspan font-family='"Liberation Sans","Noto Sans CJK SC",sans-serif' font-weight="bold">排名：</tspan></text>
<text x="142.5" y="29.9" font-size="13" fill="#ffffff"><tspan font-family='"Liberation Sans","Noto Sans CJK SC",sans-serif' font-weight="bold">涨幅：</tspan></text>
<text x="180.0" y="30.0" font-size="12.6" fill="#22cc22" font-family='"Liberation Sans",sans-serif'>-0.67%</text>
<text x="245" y="29.9" font-size="13" fill="#ffffff"><tspan font-family='"Liberation Sans","Noto Sans CJK SC",sans-serif' font-weight="bold">成交额：</tspan></text>
<text x="118.2" y="29.9" font-size="13.8" fill="#ffffff" stroke="#ffffff" stroke-width="0.2" font-family='"Liberation Serif",serif'>1</text>
<text x="297.4" y="29.9" font-size="13.8" fill="#ffffff" stroke="#ffffff" stroke-width="0.2" font-family='"Liberation Serif",serif'>223.90</text>
<text x="334.6" y="29.9" font-size="13" fill="#ffffff" font-family='"Liberation Sans","Noto Sans CJK SC",sans-serif' font-weight="bold">亿</text>
<text x="403.5" y="21.4" font-size="13" fill="#ffffff" stroke="#ffffff" stroke-width="0.35" font-family='"Liberation Serif","Noto Sans CJK SC",serif'>RPS 05,10,20 = 50，0，0</text>
<text x="403.5" y="37.1" font-size="13" fill="#ffffff" stroke="#ffffff" stroke-width="0.35" font-family='"Liberation Serif","Noto Sans CJK SC",serif'>RPS 50,120,250 = 100，96，69</text>
<text x="6.5" y="71.5" font-size="15" fill="#ffffff" font-family='"Liberation Sans","Noto Sans CJK SC",sans-serif' font-weight="bold">券商概念</text>
</svg></body></html>
